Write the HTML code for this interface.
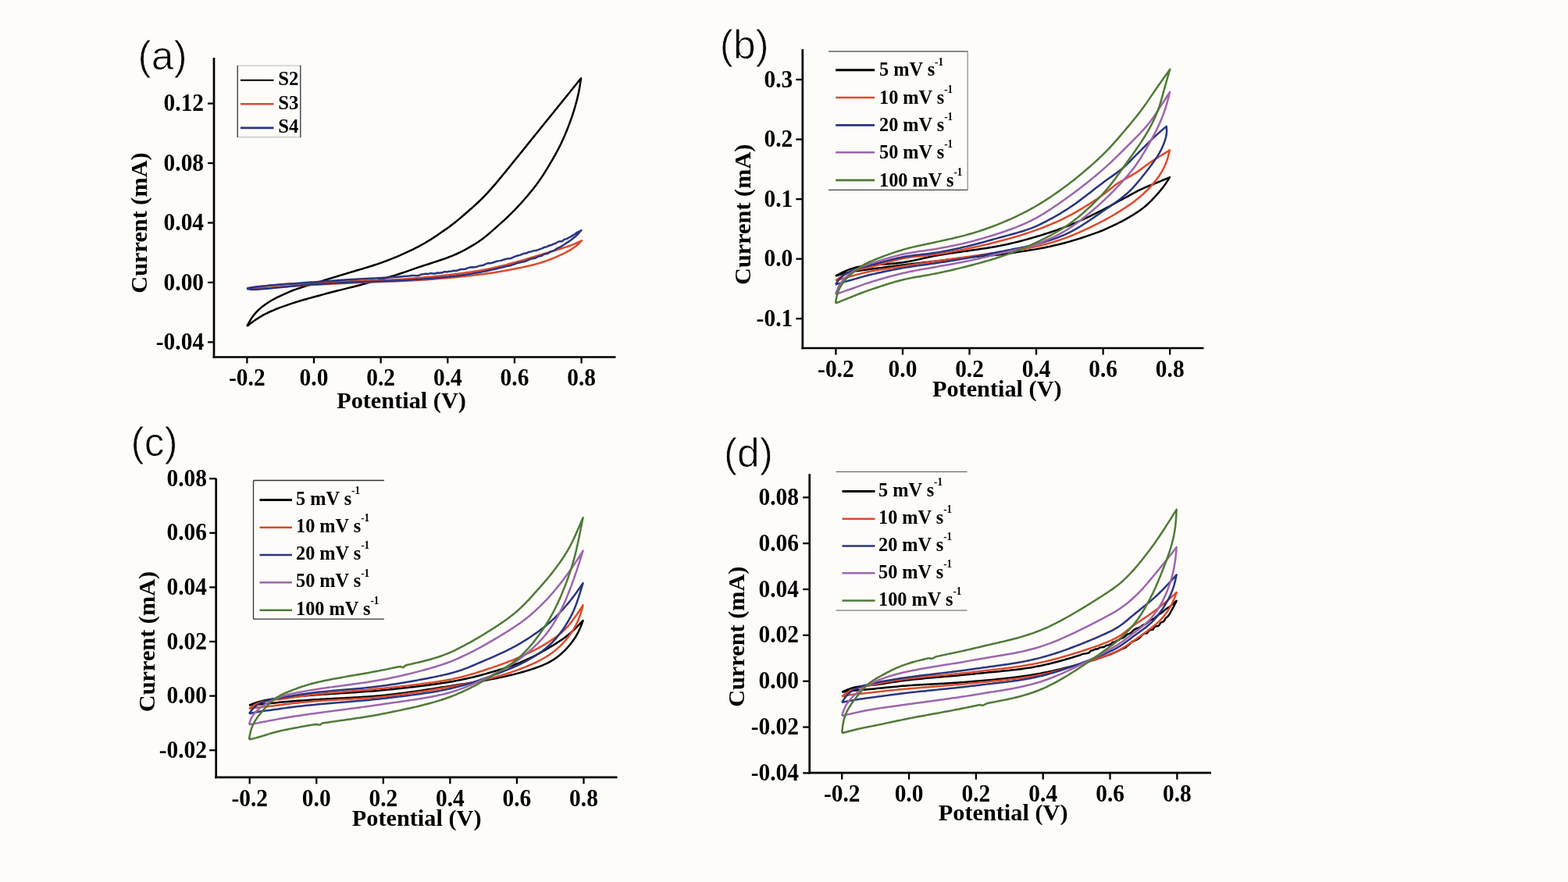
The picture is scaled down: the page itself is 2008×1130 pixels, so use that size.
<!DOCTYPE html>
<html><head><meta charset="utf-8"><title>Cyclic voltammetry curves</title>
<style>html,body{margin:0;padding:0;background:#fdfcf9;}svg{display:block;}</style>
</head><body>
<svg width="2008" height="1130" viewBox="0 0 2008 1130">
<rect width="2008" height="1130" fill="#fdfcf9"/>
<g fill="none" stroke="#000" stroke-linecap="butt">
<line x1="274" y1="74" x2="274" y2="458.85" stroke-width="2.7"/>
<line x1="272.65" y1="457.5" x2="788.5" y2="457.5" stroke-width="2.7"/>
<line x1="316.35" y1="457.5" x2="316.35" y2="465.5" stroke-width="2.3"/>
<line x1="402" y1="457.5" x2="402" y2="465.5" stroke-width="2.3"/>
<line x1="487.65" y1="457.5" x2="487.65" y2="465.5" stroke-width="2.3"/>
<line x1="573.3" y1="457.5" x2="573.3" y2="465.5" stroke-width="2.3"/>
<line x1="658.95" y1="457.5" x2="658.95" y2="465.5" stroke-width="2.3"/>
<line x1="744.6" y1="457.5" x2="744.6" y2="465.5" stroke-width="2.3"/>
<line x1="266" y1="132.58" x2="274" y2="132.58" stroke-width="2.3"/>
<line x1="266" y1="209.02" x2="274" y2="209.02" stroke-width="2.3"/>
<line x1="266" y1="285.46" x2="274" y2="285.46" stroke-width="2.3"/>
<line x1="266" y1="361.9" x2="274" y2="361.9" stroke-width="2.3"/>
<line x1="266" y1="438.34" x2="274" y2="438.34" stroke-width="2.3"/>
</g>
<text transform="translate(316.35 494.1) scale(0.92 1)" font-family="'Liberation Serif','Times New Roman',serif" font-weight="bold" font-size="32" text-anchor="middle">-0.2</text>
<text transform="translate(402 494.1) scale(0.92 1)" font-family="'Liberation Serif','Times New Roman',serif" font-weight="bold" font-size="32" text-anchor="middle">0.0</text>
<text transform="translate(487.65 494.1) scale(0.92 1)" font-family="'Liberation Serif','Times New Roman',serif" font-weight="bold" font-size="32" text-anchor="middle">0.2</text>
<text transform="translate(573.3 494.1) scale(0.92 1)" font-family="'Liberation Serif','Times New Roman',serif" font-weight="bold" font-size="32" text-anchor="middle">0.4</text>
<text transform="translate(658.95 494.1) scale(0.92 1)" font-family="'Liberation Serif','Times New Roman',serif" font-weight="bold" font-size="32" text-anchor="middle">0.6</text>
<text transform="translate(744.6 494.1) scale(0.92 1)" font-family="'Liberation Serif','Times New Roman',serif" font-weight="bold" font-size="32" text-anchor="middle">0.8</text>
<text transform="translate(261.1 142.18) scale(0.92 1)" font-family="'Liberation Serif','Times New Roman',serif" font-weight="bold" font-size="32" text-anchor="end">0.12</text>
<text transform="translate(261.1 218.62) scale(0.92 1)" font-family="'Liberation Serif','Times New Roman',serif" font-weight="bold" font-size="32" text-anchor="end">0.08</text>
<text transform="translate(261.1 295.06) scale(0.92 1)" font-family="'Liberation Serif','Times New Roman',serif" font-weight="bold" font-size="32" text-anchor="end">0.04</text>
<text transform="translate(261.1 371.5) scale(0.92 1)" font-family="'Liberation Serif','Times New Roman',serif" font-weight="bold" font-size="32" text-anchor="end">0.00</text>
<text transform="translate(261.1 447.94) scale(0.92 1)" font-family="'Liberation Serif','Times New Roman',serif" font-weight="bold" font-size="32" text-anchor="end">-0.04</text>
<text transform="translate(514 522.8)" font-family="'Liberation Serif','Times New Roman',serif" font-weight="bold" font-size="30.3" text-anchor="middle">Potential (V)</text>
<text transform="translate(188.3 285.5) rotate(-90)" font-family="'Liberation Serif','Times New Roman',serif" font-weight="bold" font-size="30.3" text-anchor="middle" lengthAdjust="spacingAndGlyphs">Current (mA)</text>
<text transform="translate(176.6 88.7)" font-family="'Liberation Sans',Arial,sans-serif" font-weight="normal" font-size="51.5" text-anchor="start" stroke="#fdfcf9" stroke-width="0.9">(a)</text>
<g stroke-width="1.3"><line x1="304.2" y1="84.2" x2="384.8" y2="84.2" stroke="#c4c4c4"/><line x1="304.2" y1="175.6" x2="384.8" y2="175.6" stroke="#c4c4c4"/><line x1="304.2" y1="84" x2="304.2" y2="176" stroke="#333"/><line x1="384.8" y1="84" x2="384.8" y2="176" stroke="#333"/></g>
<line x1="308" y1="102.8" x2="350.5" y2="102.8" stroke="#000000" stroke-width="2"/>
<text transform="translate(356.2 109) scale(0.96 1)" font-family="'Liberation Serif','Times New Roman',serif" font-weight="bold" font-size="25.8" text-anchor="start">S2</text>
<line x1="308" y1="133.3" x2="350.5" y2="133.3" stroke="#dc4a2c" stroke-width="2.6"/>
<text transform="translate(356.2 139.5) scale(0.96 1)" font-family="'Liberation Serif','Times New Roman',serif" font-weight="bold" font-size="25.8" text-anchor="start">S3</text>
<line x1="308" y1="163.9" x2="350.5" y2="163.9" stroke="#2a3580" stroke-width="2.6"/>
<text transform="translate(356.2 170.1) scale(0.96 1)" font-family="'Liberation Serif','Times New Roman',serif" font-weight="bold" font-size="25.8" text-anchor="start">S4</text>
<path d="M316.2 418 L317.62 415.36 L319.08 412.74 L320.59 410.16 L322.18 407.63 L323.88 405.19 L325.69 402.83 L327.63 400.58 L329.67 398.42 L331.83 396.36 L334.07 394.39 L336.4 392.51 L338.79 390.71 L341.24 388.99 L343.74 387.34 L346.29 385.76 L348.89 384.26 L351.52 382.81 L354.18 381.43 L356.87 380.08 L359.58 378.78 L362.31 377.51 L365.05 376.27 L367.8 375.06 L370.58 373.9 L373.36 372.77 L376.17 371.7 L379 370.67 L381.84 369.68 L384.69 368.73 L387.55 367.81 L390.42 366.9 L393.29 366 L396.17 365.11 L399.04 364.22 L401.92 363.32 L404.79 362.42 L407.66 361.52 L410.53 360.61 L413.4 359.71 L416.27 358.8 L419.15 357.91 L422.02 357.01 L424.9 356.13 L427.78 355.25 L430.66 354.38 L433.54 353.51 L436.42 352.64 L439.3 351.77 L442.19 350.91 L445.07 350.04 L447.95 349.17 L450.83 348.31 L453.72 347.44 L456.6 346.57 L459.48 345.71 L462.37 344.85 L465.25 343.98 L468.13 343.11 L471.01 342.24 L473.89 341.35 L476.76 340.45 L479.63 339.53 L482.48 338.59 L485.33 337.63 L488.18 336.64 L491.01 335.63 L493.83 334.59 L496.65 333.53 L499.46 332.44 L502.26 331.34 L505.04 330.21 L507.82 329.05 L510.59 327.88 L513.36 326.68 L516.11 325.47 L518.85 324.23 L521.59 322.97 L524.31 321.7 L527.02 320.39 L529.73 319.07 L532.41 317.72 L535.09 316.34 L537.74 314.92 L540.38 313.48 L542.99 311.99 L545.59 310.47 L548.17 308.92 L550.72 307.34 L553.26 305.72 L555.78 304.08 L558.29 302.42 L560.79 300.74 L563.27 299.04 L565.75 297.33 L568.22 295.62 L570.69 293.89 L573.14 292.15 L575.58 290.39 L577.99 288.59 L580.38 286.77 L582.74 284.91 L585.08 283.02 L587.4 281.1 L589.7 279.16 L591.99 277.21 L594.27 275.24 L596.54 273.27 L598.81 271.29 L601.07 269.31 L603.33 267.32 L605.58 265.32 L607.82 263.3 L610.04 261.27 L612.24 259.23 L614.42 257.15 L616.58 255.06 L618.7 252.93 L620.8 250.78 L622.88 248.6 L624.93 246.4 L626.96 244.17 L628.96 241.93 L630.95 239.67 L632.92 237.4 L634.87 235.11 L636.81 232.81 L638.74 230.49 L640.66 228.17 L642.57 225.85 L644.48 223.52 L646.38 221.19 L648.28 218.85 L650.18 216.52 L652.07 214.18 L653.97 211.84 L655.87 209.5 L657.76 207.16 L659.65 204.82 L661.55 202.48 L663.44 200.14 L665.33 197.8 L667.22 195.46 L669.11 193.11 L671 190.77 L672.89 188.43 L674.78 186.08 L676.66 183.74 L678.55 181.4 L680.44 179.05 L682.33 176.71 L684.22 174.36 L686.11 172.02 L688 169.68 L689.89 167.33 L691.78 164.99 L693.67 162.65 L695.56 160.31 L697.45 157.96 L699.34 155.62 L701.23 153.28 L703.13 150.94 L705.02 148.6 L706.91 146.26 L708.81 143.92 L710.7 141.58 L712.6 139.24 L714.49 136.9 L716.38 134.56 L718.28 132.22 L720.17 129.88 L722.06 127.54 L723.95 125.2 L725.84 122.86 L727.73 120.51 L729.62 118.17 L731.51 115.83 L733.4 113.48 L735.29 111.14 L737.18 108.79 L739.06 106.45 L740.95 104.11 L742.84 101.76 L744.1 100.2 L743.66 103.18 L743.2 106.15 L742.73 109.12 L742.23 112.09 L741.69 115.05 L741.12 118 L740.5 120.94 L739.83 123.87 L739.13 126.79 L738.38 129.7 L737.6 132.61 L736.79 135.51 L735.95 138.39 L735.07 141.27 L734.17 144.14 L733.24 147 L732.29 149.86 L731.3 152.7 L730.29 155.53 L729.25 158.36 L728.19 161.17 L727.11 163.98 L726.01 166.78 L724.89 169.57 L723.74 172.35 L722.55 175.11 L721.34 177.86 L720.09 180.6 L718.8 183.32 L717.48 186.02 L716.12 188.7 L714.74 191.38 L713.33 194.03 L711.9 196.68 L710.44 199.31 L708.97 201.93 L707.47 204.54 L705.95 207.14 L704.42 209.73 L702.87 212.31 L701.31 214.88 L699.74 217.45 L698.16 220.01 L696.56 222.56 L694.94 225.09 L693.29 227.6 L691.6 230.09 L689.88 232.55 L688.12 234.99 L686.32 237.4 L684.48 239.78 L682.63 242.15 L680.74 244.49 L678.84 246.82 L676.92 249.14 L674.98 251.44 L673.02 253.72 L671.05 255.99 L669.05 258.24 L667.04 260.48 L665.01 262.7 L662.96 264.9 L660.89 267.09 L658.81 269.26 L656.71 271.41 L654.59 273.55 L652.45 275.66 L650.29 277.75 L648.1 279.82 L645.9 281.87 L643.68 283.91 L641.45 285.93 L639.21 287.93 L636.96 289.93 L634.71 291.93 L632.45 293.92 L630.19 295.9 L627.92 297.87 L625.63 299.83 L623.32 301.75 L620.99 303.64 L618.62 305.49 L616.21 307.28 L613.76 309.01 L611.27 310.69 L608.74 312.31 L606.18 313.88 L603.6 315.42 L600.99 316.92 L598.37 318.4 L595.74 319.85 L593.09 321.26 L590.42 322.64 L587.72 323.97 L585.01 325.24 L582.26 326.45 L579.49 327.61 L576.69 328.71 L573.88 329.78 L571.06 330.81 L568.22 331.81 L565.38 332.8 L562.53 333.77 L559.68 334.73 L556.82 335.68 L553.96 336.61 L551.1 337.53 L548.23 338.45 L545.36 339.36 L542.5 340.29 L539.64 341.22 L536.79 342.17 L533.94 343.14 L531.09 344.12 L528.25 345.1 L525.41 346.1 L522.57 347.1 L519.73 348.09 L516.88 349.07 L514.03 350.04 L511.18 350.99 L508.32 351.92 L505.45 352.83 L502.57 353.71 L499.69 354.56 L496.8 355.39 L493.9 356.19 L490.99 356.98 L488.09 357.76 L485.18 358.53 L482.27 359.31 L479.37 360.1 L476.47 360.9 L473.57 361.71 L470.68 362.53 L467.78 363.34 L464.88 364.14 L461.98 364.92 L459.07 365.69 L456.15 366.45 L453.24 367.19 L450.32 367.92 L447.4 368.66 L444.48 369.39 L441.56 370.12 L438.65 370.86 L435.73 371.59 L432.81 372.32 L429.89 373.06 L426.97 373.79 L424.06 374.54 L421.14 375.3 L418.23 376.06 L415.33 376.84 L412.42 377.63 L409.52 378.43 L406.62 379.22 L403.72 380.02 L400.81 380.81 L397.91 381.61 L395.01 382.4 L392.11 383.21 L389.22 384.03 L386.32 384.87 L383.44 385.72 L380.56 386.6 L377.69 387.5 L374.83 388.42 L371.97 389.36 L369.12 390.33 L366.28 391.33 L363.45 392.34 L360.62 393.37 L357.81 394.43 L355 395.52 L352.21 396.64 L349.44 397.79 L346.68 398.99 L343.95 400.25 L341.25 401.56 L338.58 402.93 L335.94 404.36 L333.35 405.87 L330.8 407.44 L328.29 409.08 L325.81 410.78 L323.38 412.54 L320.97 414.34 L318.58 416.16 L316.2 418" fill="none" stroke="#000000" stroke-width="2.5" stroke-linejoin="round"/>
<path d="M316.5 369 L319.49 368.67 L322.48 368.34 L325.47 368.01 L328.46 367.68 L331.45 367.36 L334.45 367.03 L337.44 366.71 L340.43 366.4 L343.42 366.09 L346.42 365.79 L349.41 365.5 L352.41 365.22 L355.41 364.96 L358.4 364.71 L361.4 364.48 L364.4 364.26 L367.41 364.06 L370.41 363.88 L373.41 363.71 L376.42 363.55 L379.42 363.4 L382.43 363.26 L385.43 363.13 L388.44 363 L391.45 362.87 L394.45 362.73 L397.46 362.6 L400.46 362.46 L403.47 362.33 L406.48 362.18 L409.48 362.04 L412.49 361.9 L415.49 361.76 L418.5 361.62 L421.5 361.47 L424.51 361.33 L427.51 361.19 L430.52 361.06 L433.53 360.92 L436.53 360.79 L439.54 360.65 L442.54 360.52 L445.55 360.4 L448.56 360.27 L451.56 360.15 L454.57 360.04 L457.58 359.92 L460.58 359.81 L463.59 359.7 L466.6 359.6 L469.61 359.49 L472.61 359.39 L475.62 359.29 L478.63 359.18 L481.63 359.08 L484.64 358.98 L487.65 358.87 L490.66 358.76 L493.66 358.65 L496.67 358.53 L499.68 358.41 L502.68 358.28 L505.69 358.15 L508.69 358 L511.7 357.84 L514.7 357.66 L517.7 357.48 L520.7 357.27 L523.71 357.05 L526.7 356.82 L529.7 356.57 L532.7 356.31 L535.7 356.05 L538.7 355.78 L541.69 355.51 L544.69 355.24 L547.69 354.96 L550.68 354.68 L553.68 354.4 L556.67 354.1 L559.66 353.8 L562.66 353.5 L565.65 353.18 L568.64 352.86 L571.63 352.52 L574.62 352.18 L577.61 351.83 L580.6 351.47 L583.58 351.1 L586.57 350.72 L589.55 350.33 L592.53 349.93 L595.51 349.51 L598.49 349.08 L601.47 348.63 L604.44 348.18 L607.41 347.71 L610.38 347.22 L613.35 346.72 L616.31 346.21 L619.27 345.67 L622.23 345.11 L625.18 344.53 L628.13 343.93 L631.07 343.3 L634 342.65 L636.94 341.98 L639.86 341.28 L642.79 340.57 L645.7 339.84 L648.62 339.09 L651.53 338.32 L654.43 337.54 L657.34 336.75 L660.24 335.95 L663.13 335.13 L666.02 334.3 L668.91 333.46 L671.8 332.61 L674.68 331.76 L677.57 330.89 L680.45 330.02 L683.33 329.15 L686.21 328.28 L689.09 327.41 L691.97 326.54 L694.85 325.67 L697.73 324.8 L700.61 323.93 L703.49 323.06 L706.37 322.19 L709.25 321.32 L712.13 320.46 L715.01 319.59 L717.89 318.71 L720.76 317.82 L723.63 316.91 L726.48 315.97 L729.32 314.98 L732.13 313.94 L734.92 312.84 L737.69 311.68 L740.44 310.47 L743.18 309.23 L745 308.4 L742.88 310.47 L740.73 312.5 L738.5 314.45 L736.18 316.29 L733.76 318.01 L731.26 319.63 L728.69 321.16 L726.06 322.6 L723.4 323.99 L720.71 325.33 L717.99 326.62 L715.26 327.88 L712.5 329.1 L709.74 330.28 L706.95 331.43 L704.15 332.52 L701.33 333.58 L698.49 334.59 L695.64 335.55 L692.78 336.46 L689.89 337.33 L687 338.15 L684.09 338.93 L681.17 339.67 L678.24 340.38 L675.31 341.06 L672.37 341.71 L669.43 342.35 L666.48 342.97 L663.53 343.58 L660.58 344.18 L657.62 344.77 L654.66 345.34 L651.7 345.91 L648.74 346.46 L645.78 347 L642.81 347.53 L639.84 348.04 L636.87 348.53 L633.9 349.01 L630.92 349.47 L627.94 349.92 L624.96 350.35 L621.97 350.76 L618.99 351.16 L616 351.54 L613.01 351.91 L610.02 352.27 L607.02 352.62 L604.03 352.96 L601.04 353.3 L598.04 353.63 L595.05 353.96 L592.05 354.28 L589.05 354.59 L586.06 354.9 L583.06 355.2 L580.06 355.49 L577.06 355.78 L574.06 356.06 L571.06 356.33 L568.06 356.59 L565.05 356.84 L562.05 357.08 L559.05 357.32 L556.04 357.55 L553.04 357.77 L550.03 357.98 L547.03 358.19 L544.02 358.39 L541.01 358.58 L538.01 358.77 L535 358.95 L531.99 359.12 L528.98 359.28 L525.97 359.44 L522.96 359.59 L519.95 359.73 L516.94 359.87 L513.93 360.01 L510.92 360.14 L507.91 360.26 L504.9 360.39 L501.89 360.51 L498.88 360.62 L495.87 360.74 L492.86 360.85 L489.85 360.97 L486.84 361.08 L483.83 361.19 L480.82 361.3 L477.8 361.41 L474.79 361.53 L471.78 361.64 L468.77 361.75 L465.76 361.87 L462.75 361.99 L459.74 362.11 L456.73 362.23 L453.72 362.36 L450.71 362.48 L447.7 362.61 L444.69 362.75 L441.68 362.88 L438.67 363.02 L435.66 363.16 L432.65 363.31 L429.64 363.46 L426.63 363.6 L423.62 363.75 L420.61 363.91 L417.6 364.06 L414.59 364.22 L411.58 364.38 L408.57 364.54 L405.57 364.7 L402.56 364.87 L399.55 365.03 L396.54 365.2 L393.53 365.38 L390.52 365.55 L387.52 365.73 L384.51 365.91 L381.5 366.09 L378.49 366.28 L375.49 366.47 L372.48 366.67 L369.47 366.87 L366.47 367.07 L363.46 367.28 L360.46 367.5 L357.45 367.72 L354.45 367.95 L351.44 368.19 L348.44 368.43 L345.44 368.68 L342.43 368.92 L339.44 369.17 L336.45 369.4 L333.5 369.61 L330.61 369.78 L327.82 369.89 L325.18 369.91 L322.73 369.83 L320.49 369.63 L318.44 369.34 L316.5 369" fill="none" stroke="#dc4a2c" stroke-width="2.5" stroke-linejoin="round"/>
<path d="M316 370 L317.81 369.46 L319.75 368.94 L321.89 368.47 L324.26 368.03 L326.85 367.65 L329.61 367.3 L332.48 366.98 L335.41 366.69 L338.38 366.4 L341.37 366.13 L344.37 365.86 L347.36 365.6 L350.36 365.34 L353.36 365.08 L356.35 364.82 L359.35 364.57 L362.35 364.32 L365.34 364.08 L368.34 363.84 L371.34 363.61 L374.34 363.38 L377.34 363.15 L380.33 362.92 L383.33 362.7 L386.33 362.48 L389.33 362.27 L392.33 362.05 L395.33 361.83 L398.33 361.62 L401.33 361.4 L404.33 361.18 L407.33 360.97 L410.33 360.75 L413.33 360.53 L416.33 360.31 L419.33 360.1 L422.33 359.88 L425.33 359.67 L428.33 359.46 L431.33 359.25 L432.83 359.15 L434.33 359.04 L435.83 358.94 L437.33 358.84 L438.83 358.74 L440.33 358.64 L441.83 358.54 L443.33 358.44 L444.83 358.35 L446.33 358.25 L447.83 358.16 L449.33 358.07 L450.83 357.98 L452.33 357.89 L453.83 357.81 L455.33 357.72 L456.84 357.64 L458.34 357.55 L459.84 357.47 L461.34 357.39 L462.84 357.31 L464.34 357.24 L465.85 357.16 L467.35 357.08 L468.85 357.01 L470.35 356.93 L471.85 356.86 L473.35 356.79 L474.86 356.71 L476.36 356.64 L477.86 356.56 L479.36 356.49 L480.86 356.42 L482.36 356.34 L483.87 356.26 L485.37 356.19 L486.87 356.11 L488.37 356.03 L489.87 355.94 L491.37 355.86 L492.87 355.77 L494.38 355.69 L495.88 355.6 L497.38 355.51 L498.88 355.41 L500.38 355.32 L501.88 355.22 L503.38 355.12 L504.88 355.02 L506.38 354.91 L509.38 354.7 L512.38 354.48 L515.38 354.24 L518.37 354 L521.37 353.76 L524.37 353.59 L527.36 353.07 L530.36 352.97 L533.35 353.24 L536.34 353.02 L539.34 351.49 L542.33 351.32 L545.32 350.77 L548.31 351.07 L551.3 350.1 L554.29 350.46 L557.28 350.44 L560.27 349.52 L563.26 349.82 L566.25 349.34 L569.23 348.08 L572.21 348.56 L575.19 347.68 L578.17 347.5 L581.14 346.83 L584.1 346.99 L587.06 346.05 L590.01 345.03 L592.96 345.06 L595.9 344.81 L598.84 343.41 L601.77 342.61 L604.7 342.2 L607.63 342.4 L610.56 341.79 L613.49 340.63 L616.42 340.34 L619.36 339.58 L622.29 338.18 L625.22 337.06 L628.16 337.3 L631.09 336.47 L634.02 335.48 L636.94 334.56 L639.86 334.13 L642.78 333.5 L645.69 332.42 L648.59 331.67 L651.48 331.13 L654.38 330.95 L657.26 329.67 L660.14 328.33 L663.02 327.45 L665.9 326.86 L668.77 325.57 L671.65 324.68 L674.52 324.28 L677.39 322.7 L680.26 322.44 L683.13 321.34 L685.99 320.97 L688.85 320.12 L691.71 319.1 L694.57 318.15 L697.42 316.69 L700.26 316.18 L703.1 314.66 L705.93 314.02 L708.75 312.58 L711.56 311.71 L714.35 309.99 L717.13 309.14 L719.89 309.13 L722.63 306.71 L725.34 306.15 L728.02 304.74 L730.68 303.46 L733.31 301.61 L735.91 300.32 L738.5 298.02 L741.08 296.77 L743.64 295.52 L744.5 295 L743.84 295.75 L741.86 297.97 L739.83 300.23 L737.71 302.46 L735.5 304.07 L733.2 306.06 L730.81 307.73 L728.34 309.55 L725.83 310.89 L723.28 312.74 L720.7 314.49 L718.11 316.1 L715.49 317.36 L712.86 318.42 L710.21 320.61 L707.52 321.59 L704.81 322.56 L702.07 324.5 L699.3 325.32 L696.5 325.85 L693.69 327.83 L690.86 328.38 L688.02 329.14 L685.18 330.82 L682.32 331.15 L679.46 331.87 L676.59 333.1 L673.72 334.42 L670.84 335.18 L667.95 335.86 L665.06 336.47 L662.17 337.09 L659.27 338.33 L656.36 339.15 L653.45 340.32 L650.53 340.8 L647.62 341.36 L644.7 342.22 L641.77 342.81 L638.85 343.57 L635.92 344.27 L632.99 344.96 L630.05 345.63 L627.12 346.29 L624.17 346.93 L621.23 347.54 L618.27 348.14 L615.32 348.71 L612.36 349.26 L609.39 349.79 L606.43 350.3 L603.45 350.78 L600.48 351.24 L597.5 351.69 L594.52 352.12 L591.54 352.53 L588.55 352.92 L585.57 353.3 L582.58 353.67 L579.59 354.02 L576.59 354.35 L573.6 354.68 L570.6 354.99 L567.61 355.29 L564.61 355.57 L561.61 355.85 L558.61 356.12 L557.11 356.25 L555.61 356.38 L554.11 356.51 L552.61 356.64 L551.11 356.76 L549.61 356.89 L548.11 357.01 L546.61 357.13 L545.11 357.25 L543.6 357.36 L542.1 357.48 L540.6 357.59 L539.1 357.7 L537.6 357.81 L536.1 357.92 L534.59 358.02 L533.09 358.12 L531.59 358.23 L530.09 358.33 L528.58 358.43 L527.08 358.52 L525.58 358.62 L524.08 358.71 L522.57 358.8 L521.07 358.89 L519.57 358.98 L518.06 359.06 L516.56 359.15 L515.06 359.23 L513.55 359.31 L512.05 359.39 L510.55 359.47 L509.04 359.54 L507.54 359.62 L506.03 359.69 L504.53 359.76 L503.03 359.82 L501.52 359.89 L500.02 359.96 L498.51 360.02 L497.01 360.08 L495.5 360.14 L494 360.2 L492.49 360.26 L490.99 360.31 L489.48 360.37 L487.98 360.42 L486.47 360.47 L484.97 360.52 L483.46 360.57 L481.96 360.62 L480.45 360.66 L478.95 360.71 L477.44 360.76 L475.94 360.8 L474.43 360.85 L472.93 360.9 L471.42 360.94 L469.92 360.99 L468.41 361.04 L466.91 361.09 L465.4 361.14 L463.9 361.19 L462.39 361.24 L460.89 361.3 L459.38 361.35 L457.88 361.41 L456.38 361.47 L454.87 361.53 L453.37 361.59 L451.86 361.65 L450.36 361.71 L448.85 361.78 L447.35 361.85 L445.84 361.91 L444.34 361.98 L442.84 362.05 L441.33 362.13 L439.83 362.2 L438.32 362.27 L436.82 362.35 L435.32 362.43 L433.81 362.5 L432.31 362.58 L430.81 362.66 L429.3 362.74 L427.8 362.82 L426.29 362.9 L424.79 362.99 L423.29 363.07 L421.78 363.16 L420.28 363.24 L418.78 363.33 L417.27 363.42 L415.77 363.51 L414.27 363.6 L412.77 363.69 L411.26 363.79 L409.76 363.88 L408.26 363.98 L406.75 364.08 L405.25 364.17 L403.75 364.28 L402.25 364.38 L400.75 364.49 L399.24 364.59 L397.74 364.7 L396.24 364.81 L394.74 364.93 L393.24 365.04 L391.74 365.16 L390.24 365.28 L388.73 365.41 L387.23 365.53 L385.73 365.66 L384.23 365.78 L382.73 365.91 L381.23 366.05 L378.23 366.31 L375.23 366.59 L372.23 366.86 L369.24 367.14 L366.24 367.42 L363.24 367.71 L360.24 367.99 L357.24 368.28 L354.25 368.57 L351.25 368.87 L348.25 369.16 L345.26 369.46 L342.26 369.76 L339.27 370.06 L336.29 370.34 L333.34 370.59 L330.44 370.8 L327.63 370.94 L324.96 370.98 L322.47 370.9 L320.17 370.69 L318.03 370.38 L316 370" fill="none" stroke="#2a3580" stroke-width="2.5" stroke-linejoin="round"/>
<g fill="none" stroke="#000" stroke-linecap="butt">
<line x1="1027.8" y1="63" x2="1027.8" y2="447.35" stroke-width="2.7"/>
<line x1="1026.45" y1="446" x2="1541.5" y2="446" stroke-width="2.7"/>
<line x1="1070.4" y1="446" x2="1070.4" y2="454.5" stroke-width="2.3"/>
<line x1="1155.96" y1="446" x2="1155.96" y2="454.5" stroke-width="2.3"/>
<line x1="1241.52" y1="446" x2="1241.52" y2="454.5" stroke-width="2.3"/>
<line x1="1327.08" y1="446" x2="1327.08" y2="454.5" stroke-width="2.3"/>
<line x1="1412.64" y1="446" x2="1412.64" y2="454.5" stroke-width="2.3"/>
<line x1="1498.2" y1="446" x2="1498.2" y2="454.5" stroke-width="2.3"/>
<line x1="1019.3" y1="101.97" x2="1027.8" y2="101.97" stroke-width="2.3"/>
<line x1="1019.3" y1="178.55" x2="1027.8" y2="178.55" stroke-width="2.3"/>
<line x1="1019.3" y1="255.12" x2="1027.8" y2="255.12" stroke-width="2.3"/>
<line x1="1019.3" y1="331.7" x2="1027.8" y2="331.7" stroke-width="2.3"/>
<line x1="1019.3" y1="408.27" x2="1027.8" y2="408.27" stroke-width="2.3"/>
</g>
<text transform="translate(1070.4 483.2) scale(0.92 1)" font-family="'Liberation Serif','Times New Roman',serif" font-weight="bold" font-size="32" text-anchor="middle">-0.2</text>
<text transform="translate(1155.96 483.2) scale(0.92 1)" font-family="'Liberation Serif','Times New Roman',serif" font-weight="bold" font-size="32" text-anchor="middle">0.0</text>
<text transform="translate(1241.52 483.2) scale(0.92 1)" font-family="'Liberation Serif','Times New Roman',serif" font-weight="bold" font-size="32" text-anchor="middle">0.2</text>
<text transform="translate(1327.08 483.2) scale(0.92 1)" font-family="'Liberation Serif','Times New Roman',serif" font-weight="bold" font-size="32" text-anchor="middle">0.4</text>
<text transform="translate(1412.64 483.2) scale(0.92 1)" font-family="'Liberation Serif','Times New Roman',serif" font-weight="bold" font-size="32" text-anchor="middle">0.6</text>
<text transform="translate(1498.2 483.2) scale(0.92 1)" font-family="'Liberation Serif','Times New Roman',serif" font-weight="bold" font-size="32" text-anchor="middle">0.8</text>
<text transform="translate(1015.2 111.57) scale(0.92 1)" font-family="'Liberation Serif','Times New Roman',serif" font-weight="bold" font-size="32" text-anchor="end">0.3</text>
<text transform="translate(1015.2 188.15) scale(0.92 1)" font-family="'Liberation Serif','Times New Roman',serif" font-weight="bold" font-size="32" text-anchor="end">0.2</text>
<text transform="translate(1015.2 264.73) scale(0.92 1)" font-family="'Liberation Serif','Times New Roman',serif" font-weight="bold" font-size="32" text-anchor="end">0.1</text>
<text transform="translate(1015.2 341.3) scale(0.92 1)" font-family="'Liberation Serif','Times New Roman',serif" font-weight="bold" font-size="32" text-anchor="end">0.0</text>
<text transform="translate(1015.2 417.88) scale(0.92 1)" font-family="'Liberation Serif','Times New Roman',serif" font-weight="bold" font-size="32" text-anchor="end">-0.1</text>
<text transform="translate(1276.8 507.9)" font-family="'Liberation Serif','Times New Roman',serif" font-weight="bold" font-size="30.3" text-anchor="middle">Potential (V)</text>
<text transform="translate(960.7 274.8) rotate(-90)" font-family="'Liberation Serif','Times New Roman',serif" font-weight="bold" font-size="30.3" text-anchor="middle" lengthAdjust="spacingAndGlyphs">Current (mA)</text>
<text transform="translate(921.8 75.2)" font-family="'Liberation Sans',Arial,sans-serif" font-weight="normal" font-size="51.5" text-anchor="start" stroke="#fdfcf9" stroke-width="0.9">(b)</text>
<g stroke="#444" stroke-width="1.2"><line x1="1061" y1="65.8" x2="1239.2" y2="65.8"/><line x1="1061" y1="243.3" x2="1239.2" y2="243.3"/><line x1="1239.2" y1="65.8" x2="1239.2" y2="243.3" stroke="#888"/></g>
<line x1="1070.2" y1="89.7" x2="1120.1" y2="89.7" stroke="#000000" stroke-width="3"/>
<text transform="translate(1126 97.3) scale(0.935 1)" font-family="'Liberation Serif','Times New Roman',serif" font-weight="bold" font-size="26">5 mV s<tspan font-size="14" dy="-13.8">-1</tspan></text>
<line x1="1070.2" y1="125" x2="1120.1" y2="125" stroke="#dc4a2c" stroke-width="2.6"/>
<text transform="translate(1126 132.6) scale(0.935 1)" font-family="'Liberation Serif','Times New Roman',serif" font-weight="bold" font-size="26">10 mV s<tspan font-size="14" dy="-13.8">-1</tspan></text>
<line x1="1070.2" y1="160.4" x2="1120.1" y2="160.4" stroke="#2a3580" stroke-width="2.6"/>
<text transform="translate(1126 168) scale(0.935 1)" font-family="'Liberation Serif','Times New Roman',serif" font-weight="bold" font-size="26">20 mV s<tspan font-size="14" dy="-13.8">-1</tspan></text>
<line x1="1070.2" y1="195.2" x2="1120.1" y2="195.2" stroke="#9c66ad" stroke-width="2.6"/>
<text transform="translate(1126 202.8) scale(0.935 1)" font-family="'Liberation Serif','Times New Roman',serif" font-weight="bold" font-size="26">50 mV s<tspan font-size="14" dy="-13.8">-1</tspan></text>
<line x1="1070.2" y1="230.9" x2="1120.1" y2="230.9" stroke="#4f7a38" stroke-width="2.6"/>
<text transform="translate(1126 238.5) scale(0.935 1)" font-family="'Liberation Serif','Times New Roman',serif" font-weight="bold" font-size="26">100 mV s<tspan font-size="14" dy="-13.8">-1</tspan></text>
<path d="M1070 353.6 L1072.64 352.16 L1075.29 350.75 L1077.96 349.39 L1080.67 348.1 L1083.42 346.9 L1086.2 345.8 L1089.03 344.79 L1091.88 343.86 L1094.76 343.03 L1097.67 342.28 L1100.59 341.62 L1103.54 341.04 L1106.5 340.55 L1109.47 340.14 L1112.46 339.8 L1115.45 339.52 L1118.45 339.29 L1121.46 339.09 L1124.46 338.91 L1127.47 338.74 L1130.48 338.57 L1133.49 338.39 L1136.49 338.2 L1139.5 337.99 L1142.5 337.76 L1145.5 337.49 L1148.5 337.19 L1151.49 336.85 L1154.47 336.47 L1157.45 336.04 L1160.42 335.56 L1163.39 335.04 L1166.35 334.48 L1169.3 333.88 L1172.24 333.25 L1175.18 332.6 L1178.12 331.93 L1181.06 331.26 L1184 330.59 L1186.94 329.93 L1189.88 329.29 L1192.83 328.67 L1195.78 328.07 L1198.74 327.5 L1201.7 326.96 L1204.67 326.44 L1207.64 325.95 L1210.62 325.48 L1213.59 325.03 L1216.57 324.59 L1219.56 324.16 L1222.54 323.74 L1225.52 323.32 L1228.51 322.91 L1231.49 322.49 L1234.48 322.07 L1237.46 321.64 L1240.44 321.21 L1243.42 320.78 L1246.41 320.35 L1249.39 319.92 L1252.37 319.48 L1255.35 319.04 L1258.33 318.6 L1261.31 318.15 L1264.29 317.69 L1267.26 317.22 L1270.24 316.73 L1273.21 316.22 L1276.17 315.7 L1279.13 315.14 L1282.09 314.57 L1285.04 313.97 L1287.99 313.35 L1290.93 312.7 L1293.87 312.04 L1296.81 311.35 L1299.73 310.65 L1302.66 309.93 L1305.58 309.19 L1308.5 308.43 L1311.41 307.66 L1314.32 306.87 L1317.22 306.06 L1320.12 305.24 L1323.01 304.41 L1325.91 303.56 L1328.79 302.7 L1331.68 301.83 L1334.56 300.94 L1337.43 300.04 L1340.3 299.13 L1343.17 298.2 L1346.03 297.26 L1348.89 296.29 L1351.73 295.31 L1354.58 294.32 L1357.41 293.3 L1360.24 292.26 L1363.06 291.2 L1365.87 290.11 L1368.67 289 L1371.46 287.87 L1374.24 286.71 L1377.01 285.53 L1379.78 284.33 L1382.53 283.11 L1385.28 281.87 L1388.02 280.62 L1390.75 279.35 L1393.47 278.06 L1396.2 276.77 L1398.91 275.47 L1401.62 274.15 L1404.33 272.83 L1407.03 271.49 L1409.72 270.13 L1412.4 268.76 L1415.06 267.36 L1417.72 265.94 L1420.36 264.49 L1423 263.04 L1425.63 261.58 L1428.27 260.13 L1430.91 258.69 L1433.57 257.27 L1436.23 255.86 L1438.88 254.45 L1441.54 253.03 L1444.18 251.59 L1446.82 250.14 L1449.45 248.67 L1452.08 247.22 L1454.72 245.78 L1457.38 244.4 L1460.08 243.06 L1462.8 241.79 L1465.54 240.57 L1468.31 239.39 L1471.09 238.24 L1473.88 237.11 L1476.68 235.98 L1479.47 234.85 L1482.26 233.72 L1485.05 232.57 L1487.83 231.41 L1490.61 230.25 L1493.38 229.07 L1496.15 227.89 L1498 227.1 L1496.42 229.65 L1494.82 232.18 L1493.16 234.67 L1491.44 237.12 L1489.66 239.53 L1487.82 241.9 L1485.92 244.22 L1483.99 246.52 L1482.02 248.79 L1480.02 251.04 L1477.99 253.26 L1475.93 255.45 L1473.84 257.59 L1471.7 259.69 L1469.5 261.74 L1467.25 263.72 L1464.95 265.63 L1462.58 267.47 L1460.17 269.25 L1457.72 270.98 L1455.22 272.66 L1452.7 274.29 L1450.15 275.88 L1447.58 277.43 L1444.98 278.95 L1442.36 280.42 L1439.73 281.87 L1437.07 283.28 L1434.4 284.65 L1431.72 286 L1429.03 287.33 L1426.33 288.64 L1423.63 289.94 L1420.93 291.22 L1418.22 292.48 L1415.5 293.7 L1412.75 294.88 L1409.99 296.02 L1407.2 297.11 L1404.39 298.16 L1401.56 299.18 L1398.73 300.17 L1395.89 301.16 L1393.04 302.12 L1390.19 303.08 L1387.33 304.02 L1384.47 304.96 L1381.6 305.87 L1378.73 306.77 L1375.86 307.65 L1372.97 308.51 L1370.09 309.35 L1367.19 310.16 L1364.29 310.95 L1361.38 311.72 L1358.46 312.46 L1355.54 313.19 L1352.62 313.89 L1349.69 314.58 L1346.76 315.25 L1343.82 315.91 L1340.88 316.55 L1337.94 317.17 L1334.99 317.77 L1332.04 318.34 L1329.08 318.88 L1326.12 319.39 L1323.15 319.87 L1320.18 320.33 L1317.21 320.77 L1314.24 321.21 L1311.26 321.67 L1308.29 322.13 L1305.32 322.61 L1302.36 323.1 L1299.39 323.59 L1296.42 324.08 L1293.45 324.54 L1290.47 324.98 L1287.49 325.39 L1284.51 325.77 L1281.52 326.12 L1278.53 326.44 L1275.54 326.74 L1272.54 327.01 L1269.55 327.27 L1266.55 327.51 L1263.55 327.75 L1260.55 327.98 L1257.55 328.22 L1254.55 328.46 L1251.55 328.7 L1248.56 328.96 L1245.56 329.23 L1242.56 329.51 L1239.57 329.81 L1236.58 330.12 L1233.59 330.43 L1230.59 330.76 L1227.61 331.1 L1224.62 331.45 L1221.63 331.8 L1218.64 332.15 L1215.65 332.51 L1212.67 332.86 L1209.68 333.22 L1206.69 333.58 L1203.7 333.93 L1200.71 334.28 L1197.73 334.64 L1194.74 334.98 L1191.75 335.33 L1188.76 335.68 L1185.77 336.02 L1182.78 336.36 L1179.79 336.71 L1176.8 337.05 L1173.82 337.4 L1170.83 337.75 L1167.84 338.1 L1164.85 338.45 L1161.86 338.81 L1158.88 339.17 L1155.89 339.53 L1152.9 339.89 L1149.92 340.26 L1146.93 340.63 L1143.95 341.01 L1140.96 341.38 L1137.98 341.76 L1134.99 342.14 L1132.01 342.52 L1129.02 342.91 L1126.04 343.3 L1123.06 343.69 L1120.07 344.09 L1117.09 344.49 L1114.11 344.9 L1111.13 345.31 L1108.15 345.71 L1105.18 346.12 L1102.2 346.52 L1099.22 346.92 L1096.25 347.35 L1093.28 347.8 L1090.32 348.31 L1087.38 348.89 L1084.45 349.53 L1081.53 350.24 L1078.63 351.01 L1075.75 351.84 L1072.87 352.71 L1070 353.6" fill="none" stroke="#000000" stroke-width="2.5" stroke-linejoin="round"/>
<path d="M1070 359.4 L1072.46 357.69 L1074.95 356.01 L1077.46 354.39 L1080.02 352.86 L1082.63 351.44 L1085.3 350.14 L1088.04 348.98 L1090.83 347.97 L1093.67 347.08 L1096.55 346.31 L1099.46 345.63 L1102.38 345 L1105.32 344.39 L1108.26 343.77 L1111.19 343.12 L1114.11 342.43 L1117.02 341.69 L1119.92 340.91 L1122.82 340.1 L1125.71 339.26 L1128.59 338.41 L1131.47 337.55 L1134.36 336.7 L1137.24 335.86 L1140.13 335.04 L1143.03 334.24 L1145.94 333.47 L1148.86 332.75 L1151.78 332.07 L1154.72 331.44 L1157.67 330.87 L1160.63 330.35 L1163.59 329.89 L1166.57 329.47 L1169.55 329.09 L1172.54 328.75 L1175.53 328.44 L1178.52 328.14 L1181.51 327.84 L1184.5 327.55 L1187.49 327.24 L1190.48 326.92 L1193.47 326.57 L1196.45 326.2 L1199.43 325.79 L1202.41 325.36 L1205.38 324.91 L1208.35 324.43 L1211.31 323.93 L1214.28 323.41 L1217.24 322.88 L1220.2 322.33 L1223.15 321.77 L1226.1 321.2 L1229.05 320.62 L1232 320.03 L1234.95 319.43 L1237.9 318.83 L1240.84 318.21 L1243.78 317.59 L1246.72 316.95 L1249.66 316.31 L1252.6 315.66 L1255.53 315 L1258.46 314.33 L1261.39 313.65 L1264.32 312.95 L1267.24 312.25 L1270.17 311.53 L1273.08 310.8 L1276 310.06 L1278.91 309.3 L1281.82 308.54 L1284.72 307.76 L1287.62 306.97 L1290.52 306.17 L1293.42 305.36 L1296.31 304.54 L1299.2 303.7 L1302.09 302.86 L1304.97 302 L1307.85 301.12 L1310.72 300.22 L1313.58 299.31 L1316.44 298.37 L1319.29 297.41 L1322.13 296.43 L1324.97 295.43 L1327.8 294.41 L1330.62 293.37 L1333.43 292.3 L1336.24 291.22 L1339.03 290.12 L1341.82 289 L1344.61 287.86 L1347.38 286.7 L1350.14 285.51 L1352.9 284.3 L1355.64 283.07 L1358.37 281.81 L1361.08 280.52 L1363.78 279.2 L1366.47 277.85 L1369.14 276.47 L1371.8 275.06 L1374.44 273.62 L1377.06 272.16 L1379.67 270.66 L1382.27 269.15 L1384.85 267.61 L1387.42 266.05 L1389.98 264.48 L1392.54 262.88 L1395.08 261.28 L1397.61 259.66 L1400.13 258.02 L1402.65 256.37 L1405.15 254.7 L1407.63 253 L1410.09 251.27 L1412.52 249.51 L1414.92 247.71 L1417.28 245.87 L1419.63 243.99 L1421.95 242.1 L1424.28 240.22 L1426.63 238.37 L1429.02 236.59 L1431.47 234.89 L1433.97 233.28 L1436.54 231.75 L1439.14 230.28 L1441.76 228.83 L1444.39 227.4 L1447.01 225.93 L1449.61 224.43 L1452.18 222.88 L1454.71 221.27 L1457.2 219.6 L1459.66 217.88 L1462.09 216.12 L1464.5 214.33 L1466.91 212.53 L1469.32 210.75 L1471.76 209 L1474.22 207.29 L1476.72 205.61 L1479.24 203.98 L1481.78 202.38 L1484.34 200.8 L1486.9 199.23 L1489.47 197.66 L1492.03 196.09 L1494.59 194.51 L1497.15 192.93 L1498 192.4 L1497.76 193.37 L1497.05 196.29 L1496.29 199.19 L1495.47 202.07 L1494.58 204.92 L1493.58 207.74 L1492.49 210.52 L1491.28 213.25 L1489.98 215.94 L1488.57 218.58 L1487.07 221.16 L1485.48 223.7 L1483.81 226.18 L1482.06 228.62 L1480.25 231.01 L1478.38 233.35 L1476.45 235.65 L1474.47 237.9 L1472.44 240.11 L1470.36 242.28 L1468.25 244.41 L1466.09 246.5 L1463.9 248.55 L1461.66 250.56 L1459.39 252.52 L1457.09 254.44 L1454.74 256.31 L1452.36 258.14 L1449.94 259.93 L1447.5 261.67 L1445.03 263.38 L1442.54 265.06 L1440.03 266.72 L1437.51 268.35 L1434.97 269.97 L1432.43 271.57 L1429.87 273.15 L1427.3 274.71 L1424.72 276.25 L1422.12 277.76 L1419.51 279.24 L1416.88 280.7 L1414.23 282.12 L1411.57 283.51 L1408.89 284.88 L1406.21 286.24 L1403.52 287.58 L1400.82 288.91 L1398.12 290.23 L1395.41 291.53 L1392.7 292.83 L1389.97 294.11 L1387.25 295.37 L1384.51 296.62 L1381.76 297.84 L1379.01 299.04 L1376.24 300.21 L1373.46 301.36 L1370.67 302.47 L1367.87 303.56 L1365.05 304.61 L1362.23 305.63 L1359.39 306.63 L1356.54 307.6 L1353.69 308.53 L1350.82 309.44 L1347.95 310.33 L1345.07 311.18 L1342.18 312.01 L1339.28 312.81 L1336.37 313.57 L1333.46 314.31 L1330.54 315.02 L1327.61 315.69 L1324.67 316.32 L1321.73 316.92 L1318.77 317.48 L1315.82 318.01 L1312.85 318.5 L1309.88 318.96 L1306.91 319.41 L1303.93 319.83 L1300.95 320.24 L1297.97 320.64 L1294.99 321.04 L1292.01 321.44 L1289.03 321.84 L1286.05 322.25 L1283.07 322.67 L1280.1 323.1 L1277.12 323.52 L1274.14 323.96 L1271.17 324.39 L1268.19 324.82 L1265.22 325.26 L1262.24 325.69 L1259.27 326.12 L1256.29 326.55 L1253.31 326.98 L1250.34 327.41 L1247.36 327.83 L1244.38 328.25 L1241.4 328.67 L1238.42 329.08 L1235.45 329.5 L1232.47 329.9 L1229.49 330.31 L1226.51 330.72 L1223.53 331.12 L1220.55 331.52 L1217.57 331.93 L1214.59 332.34 L1211.61 332.75 L1208.63 333.16 L1205.65 333.58 L1202.67 334 L1199.7 334.43 L1196.72 334.86 L1193.75 335.3 L1190.77 335.74 L1187.8 336.18 L1184.82 336.64 L1181.85 337.09 L1178.88 337.55 L1175.91 338 L1172.94 338.46 L1169.96 338.93 L1166.99 339.39 L1164.02 339.85 L1161.05 340.31 L1158.08 340.77 L1155.11 341.23 L1152.13 341.69 L1149.16 342.15 L1146.19 342.6 L1143.22 343.06 L1140.24 343.52 L1137.27 343.97 L1134.3 344.43 L1131.33 344.89 L1128.36 345.36 L1125.39 345.84 L1122.42 346.32 L1119.46 346.83 L1116.51 347.37 L1113.56 347.94 L1110.62 348.56 L1107.69 349.21 L1104.77 349.89 L1101.86 350.61 L1098.95 351.36 L1096.04 352.13 L1093.14 352.92 L1090.25 353.73 L1087.36 354.55 L1084.48 355.39 L1081.59 356.22 L1078.7 357.04 L1075.8 357.84 L1072.9 358.63 L1070 359.4" fill="none" stroke="#dc4a2c" stroke-width="2.5" stroke-linejoin="round"/>
<path d="M1070 364.5 L1071.61 362.08 L1073.3 359.72 L1075.12 357.48 L1077.11 355.39 L1079.28 353.48 L1081.61 351.75 L1084.09 350.19 L1086.69 348.79 L1089.37 347.53 L1092.13 346.39 L1094.94 345.37 L1097.78 344.43 L1100.66 343.56 L1103.55 342.75 L1106.45 341.96 L1109.36 341.19 L1112.27 340.42 L1115.18 339.64 L1118.08 338.86 L1120.99 338.07 L1123.89 337.27 L1126.79 336.47 L1129.7 335.68 L1132.6 334.89 L1135.51 334.1 L1138.42 333.34 L1141.33 332.59 L1144.26 331.87 L1147.18 331.18 L1150.12 330.52 L1153.06 329.91 L1156.01 329.33 L1158.97 328.8 L1161.94 328.31 L1164.92 327.87 L1167.9 327.46 L1170.88 327.09 L1173.87 326.74 L1176.86 326.41 L1179.85 326.08 L1182.85 325.75 L1185.84 325.41 L1188.83 325.06 L1191.81 324.68 L1194.79 324.27 L1197.77 323.84 L1200.74 323.37 L1203.71 322.87 L1206.67 322.35 L1209.63 321.81 L1212.59 321.24 L1215.54 320.66 L1218.49 320.05 L1221.44 319.44 L1224.38 318.8 L1227.32 318.16 L1230.26 317.5 L1233.19 316.83 L1236.12 316.14 L1239.05 315.45 L1241.98 314.73 L1244.9 314.01 L1247.81 313.27 L1250.73 312.52 L1253.64 311.75 L1256.55 310.97 L1259.45 310.18 L1262.35 309.38 L1265.25 308.57 L1268.15 307.76 L1271.05 306.95 L1273.95 306.14 L1276.85 305.33 L1279.75 304.52 L1282.65 303.73 L1285.56 302.93 L1288.46 302.14 L1291.37 301.36 L1294.27 300.56 L1297.17 299.77 L1300.07 298.96 L1302.97 298.14 L1305.86 297.31 L1308.74 296.45 L1311.61 295.55 L1314.47 294.61 L1317.3 293.62 L1320.12 292.57 L1322.91 291.47 L1325.68 290.3 L1328.43 289.08 L1331.15 287.81 L1333.86 286.5 L1336.55 285.16 L1339.23 283.78 L1341.89 282.39 L1344.55 280.97 L1347.19 279.53 L1349.82 278.06 L1352.44 276.58 L1355.05 275.08 L1357.64 273.55 L1360.22 272 L1362.78 270.43 L1365.33 268.83 L1367.86 267.2 L1370.38 265.55 L1372.87 263.87 L1375.35 262.16 L1377.81 260.42 L1380.25 258.66 L1382.67 256.88 L1385.08 255.08 L1387.48 253.26 L1389.87 251.43 L1392.26 249.6 L1394.63 247.75 L1397.01 245.9 L1399.38 244.05 L1401.76 242.2 L1404.14 240.36 L1406.53 238.52 L1408.92 236.7 L1411.33 234.9 L1413.75 233.11 L1416.18 231.34 L1418.63 229.58 L1421.09 227.84 L1423.55 226.11 L1426 224.37 L1428.45 222.62 L1430.87 220.84 L1433.26 219.03 L1435.61 217.16 L1437.91 215.24 L1440.17 213.26 L1442.37 211.22 L1444.54 209.14 L1446.67 207.02 L1448.79 204.89 L1450.9 202.74 L1453 200.59 L1455.11 198.44 L1457.23 196.3 L1459.34 194.16 L1461.47 192.03 L1463.59 189.89 L1465.72 187.76 L1467.85 185.64 L1469.98 183.51 L1472.13 181.4 L1474.28 179.3 L1476.45 177.21 L1478.64 175.15 L1480.85 173.11 L1483.08 171.09 L1485.33 169.1 L1487.6 167.12 L1489.88 165.16 L1492.17 163.2 L1493.7 161.9 L1493.87 163.58 L1494.06 166.13 L1494.08 168.72 L1493.86 171.39 L1493.42 174.11 L1492.76 176.89 L1491.94 179.68 L1490.98 182.48 L1489.92 185.26 L1488.76 188.01 L1487.5 190.73 L1486.15 193.4 L1484.71 196.03 L1483.19 198.61 L1481.59 201.15 L1479.93 203.65 L1478.23 206.12 L1476.48 208.57 L1474.71 211 L1472.92 213.42 L1471.1 215.82 L1469.27 218.21 L1467.43 220.59 L1465.57 222.95 L1463.7 225.31 L1461.82 227.66 L1459.92 230 L1458.01 232.32 L1456.08 234.63 L1454.12 236.91 L1452.13 239.15 L1450.08 241.35 L1447.99 243.49 L1445.83 245.57 L1443.61 247.59 L1441.34 249.55 L1439.02 251.46 L1436.67 253.32 L1434.28 255.15 L1431.87 256.95 L1429.44 258.72 L1426.99 260.48 L1424.53 262.22 L1422.07 263.94 L1419.6 265.66 L1417.12 267.37 L1414.64 269.08 L1412.17 270.79 L1409.69 272.5 L1407.21 274.21 L1404.73 275.91 L1402.25 277.62 L1399.77 279.32 L1397.28 281.02 L1394.79 282.71 L1392.28 284.38 L1389.77 286.03 L1387.24 287.67 L1384.7 289.27 L1382.14 290.85 L1379.55 292.39 L1376.95 293.88 L1374.32 295.34 L1371.66 296.74 L1368.97 298.09 L1366.26 299.39 L1363.53 300.63 L1360.77 301.82 L1357.98 302.96 L1355.18 304.05 L1352.36 305.09 L1349.53 306.1 L1346.68 307.06 L1343.82 307.99 L1340.95 308.89 L1338.07 309.77 L1335.18 310.61 L1332.29 311.44 L1329.38 312.24 L1326.48 313.01 L1323.56 313.76 L1320.64 314.48 L1317.71 315.17 L1314.78 315.83 L1311.83 316.46 L1308.89 317.07 L1305.94 317.65 L1302.98 318.23 L1300.02 318.79 L1297.07 319.35 L1294.11 319.91 L1291.15 320.47 L1288.19 321.03 L1285.24 321.61 L1282.29 322.19 L1279.33 322.78 L1276.38 323.37 L1273.43 323.97 L1270.48 324.58 L1267.53 325.18 L1264.58 325.78 L1261.63 326.37 L1258.68 326.97 L1255.73 327.55 L1252.77 328.13 L1249.82 328.69 L1246.86 329.25 L1243.9 329.8 L1240.94 330.34 L1237.97 330.86 L1235.01 331.38 L1232.04 331.88 L1229.07 332.38 L1226.1 332.87 L1223.13 333.35 L1220.16 333.83 L1217.19 334.3 L1214.21 334.76 L1211.24 335.22 L1208.26 335.68 L1205.28 336.13 L1202.31 336.58 L1199.33 337.02 L1196.35 337.45 L1193.37 337.88 L1190.39 338.31 L1187.41 338.72 L1184.43 339.14 L1181.45 339.55 L1178.47 339.96 L1175.48 340.38 L1172.5 340.8 L1169.53 341.23 L1166.55 341.68 L1163.57 342.14 L1160.6 342.62 L1157.63 343.12 L1154.67 343.63 L1151.71 344.16 L1148.75 344.72 L1145.79 345.28 L1142.84 345.86 L1139.89 346.46 L1136.94 347.06 L1133.99 347.67 L1131.05 348.29 L1128.1 348.92 L1125.16 349.56 L1122.22 350.21 L1119.29 350.88 L1116.36 351.56 L1113.44 352.27 L1110.52 353.01 L1107.62 353.79 L1104.72 354.59 L1101.83 355.42 L1098.94 356.25 L1096.05 357.09 L1093.16 357.92 L1090.26 358.74 L1087.36 359.55 L1084.47 360.35 L1081.57 361.16 L1078.67 361.98 L1075.78 362.81 L1072.89 363.65 L1070 364.5" fill="none" stroke="#2a3580" stroke-width="2.5" stroke-linejoin="round"/>
<path d="M1070 377 L1071 374.2 L1072.06 371.44 L1073.24 368.73 L1074.57 366.12 L1076.09 363.61 L1077.78 361.23 L1079.65 358.96 L1081.67 356.8 L1083.8 354.75 L1086.03 352.78 L1088.34 350.89 L1090.72 349.1 L1093.17 347.4 L1095.69 345.81 L1098.27 344.34 L1100.92 342.98 L1103.64 341.73 L1106.4 340.59 L1109.2 339.53 L1112.03 338.53 L1114.88 337.58 L1117.74 336.65 L1120.61 335.75 L1123.49 334.86 L1126.36 333.97 L1129.24 333.09 L1132.13 332.22 L1135.01 331.36 L1137.9 330.51 L1140.79 329.68 L1143.69 328.87 L1146.6 328.09 L1149.51 327.35 L1152.44 326.63 L1155.37 325.96 L1158.31 325.32 L1161.26 324.73 L1164.22 324.17 L1167.18 323.65 L1170.15 323.17 L1173.12 322.71 L1176.1 322.27 L1179.08 321.84 L1182.06 321.41 L1185.04 320.98 L1188.02 320.55 L1191 320.1 L1193.97 319.64 L1196.94 319.15 L1199.91 318.65 L1202.88 318.13 L1205.84 317.6 L1208.8 317.05 L1211.76 316.49 L1214.71 315.92 L1217.67 315.34 L1220.62 314.74 L1223.57 314.13 L1226.51 313.5 L1229.45 312.86 L1232.39 312.2 L1235.32 311.52 L1238.25 310.82 L1241.17 310.1 L1244.09 309.35 L1247 308.59 L1249.91 307.8 L1252.81 306.99 L1255.7 306.17 L1258.59 305.33 L1261.48 304.48 L1264.36 303.61 L1267.25 302.74 L1270.12 301.85 L1273 300.95 L1275.87 300.05 L1278.74 299.13 L1281.6 298.21 L1284.46 297.26 L1287.31 296.29 L1290.15 295.29 L1292.97 294.27 L1295.79 293.21 L1298.6 292.14 L1301.4 291.04 L1304.2 289.92 L1306.99 288.78 L1309.76 287.62 L1312.52 286.43 L1315.27 285.2 L1317.99 283.92 L1320.68 282.59 L1323.36 281.22 L1326 279.79 L1328.63 278.32 L1331.23 276.81 L1333.81 275.27 L1336.38 273.69 L1338.93 272.1 L1341.47 270.48 L1344 268.85 L1346.52 267.2 L1349.03 265.54 L1351.53 263.86 L1354.02 262.17 L1356.5 260.47 L1358.98 258.76 L1361.45 257.04 L1363.91 255.3 L1366.36 253.55 L1368.8 251.79 L1371.23 250.01 L1373.65 248.23 L1376.07 246.43 L1378.47 244.62 L1380.87 242.8 L1383.26 240.97 L1385.64 239.12 L1388.01 237.27 L1390.38 235.41 L1392.74 233.53 L1395.09 231.65 L1397.43 229.76 L1399.76 227.85 L1402.08 225.94 L1404.4 224.01 L1406.7 222.08 L1409 220.13 L1411.28 218.16 L1413.54 216.18 L1415.79 214.18 L1418.03 212.16 L1420.24 210.13 L1422.45 208.07 L1424.63 206.01 L1426.8 203.92 L1428.96 201.83 L1431.12 199.72 L1433.26 197.6 L1435.4 195.48 L1437.53 193.36 L1439.67 191.24 L1441.8 189.12 L1443.94 186.99 L1446.07 184.87 L1448.21 182.75 L1450.34 180.62 L1452.46 178.49 L1454.58 176.34 L1456.68 174.19 L1458.77 172.02 L1460.84 169.84 L1462.9 167.64 L1464.93 165.42 L1466.92 163.17 L1468.88 160.89 L1470.78 158.57 L1472.64 156.21 L1474.45 153.81 L1476.21 151.37 L1477.93 148.91 L1479.62 146.42 L1481.28 143.91 L1482.94 141.39 L1484.58 138.87 L1486.23 136.35 L1487.87 133.83 L1489.51 131.3 L1491.15 128.78 L1492.78 126.25 L1494.41 123.71 L1496.03 121.18 L1497.66 118.65 L1498.2 117.8 L1497.71 119.74 L1496.96 122.66 L1496.21 125.57 L1495.44 128.48 L1494.64 131.38 L1493.81 134.27 L1492.94 137.15 L1492.03 140.01 L1491.07 142.86 L1490.06 145.69 L1489 148.51 L1487.9 151.3 L1486.75 154.08 L1485.56 156.84 L1484.33 159.59 L1483.06 162.31 L1481.75 165.02 L1480.41 167.71 L1479.04 170.39 L1477.64 173.05 L1476.21 175.7 L1474.77 178.34 L1473.31 180.97 L1471.84 183.6 L1470.36 186.22 L1468.87 188.83 L1467.36 191.44 L1465.84 194.03 L1464.3 196.62 L1462.74 199.19 L1461.16 201.75 L1459.54 204.28 L1457.89 206.8 L1456.21 209.29 L1454.49 211.75 L1452.72 214.18 L1450.91 216.58 L1449.06 218.95 L1447.17 221.28 L1445.24 223.59 L1443.28 225.87 L1441.3 228.14 L1439.3 230.39 L1437.29 232.62 L1435.26 234.84 L1433.21 237.05 L1431.16 239.25 L1429.09 241.43 L1427 243.6 L1424.9 245.75 L1422.78 247.88 L1420.64 250 L1418.48 252.1 L1416.3 254.18 L1414.11 256.24 L1411.9 258.28 L1409.68 260.31 L1407.45 262.32 L1405.2 264.33 L1402.94 266.32 L1400.68 268.3 L1398.4 270.26 L1396.11 272.21 L1393.8 274.15 L1391.49 276.07 L1389.16 277.97 L1386.81 279.85 L1384.44 281.7 L1382.05 283.53 L1379.64 285.33 L1377.21 287.1 L1374.75 288.83 L1372.27 290.52 L1369.76 292.18 L1367.22 293.78 L1364.65 295.35 L1362.06 296.87 L1359.44 298.35 L1356.8 299.78 L1354.13 301.17 L1351.44 302.52 L1348.74 303.83 L1346.01 305.1 L1343.27 306.33 L1340.51 307.52 L1337.73 308.68 L1334.95 309.81 L1332.14 310.9 L1329.32 311.95 L1326.49 312.96 L1323.65 313.92 L1320.78 314.84 L1317.91 315.72 L1315.02 316.55 L1312.12 317.34 L1309.2 318.09 L1306.28 318.81 L1303.36 319.51 L1300.43 320.19 L1297.49 320.85 L1294.56 321.52 L1291.62 322.19 L1288.69 322.86 L1285.76 323.55 L1282.83 324.24 L1279.9 324.94 L1276.98 325.65 L1274.06 326.36 L1271.13 327.08 L1268.21 327.79 L1265.28 328.5 L1262.36 329.2 L1259.43 329.9 L1256.5 330.59 L1253.57 331.27 L1250.63 331.94 L1247.7 332.6 L1244.76 333.24 L1241.81 333.87 L1238.87 334.48 L1235.92 335.08 L1232.97 335.66 L1230.01 336.24 L1227.06 336.8 L1224.1 337.35 L1221.14 337.9 L1218.18 338.44 L1215.22 338.97 L1212.25 339.51 L1209.29 340.04 L1206.33 340.57 L1203.37 341.1 L1200.41 341.64 L1197.44 342.17 L1194.48 342.69 L1191.52 343.22 L1188.55 343.74 L1185.59 344.26 L1182.62 344.78 L1179.66 345.3 L1176.7 345.84 L1173.74 346.38 L1170.78 346.93 L1167.83 347.51 L1164.88 348.1 L1161.93 348.72 L1158.99 349.36 L1156.06 350.02 L1153.13 350.71 L1150.21 351.43 L1147.29 352.17 L1144.38 352.93 L1141.47 353.71 L1138.57 354.5 L1135.67 355.31 L1132.78 356.13 L1129.88 356.96 L1126.99 357.8 L1124.11 358.64 L1121.22 359.5 L1118.35 360.38 L1115.47 361.28 L1112.61 362.19 L1109.76 363.14 L1106.91 364.12 L1104.08 365.12 L1101.25 366.14 L1098.42 367.17 L1095.6 368.19 L1092.77 369.21 L1089.93 370.21 L1087.09 371.2 L1084.24 372.17 L1081.39 373.13 L1078.54 374.09 L1075.69 375.06 L1072.84 376.03 L1070 377" fill="none" stroke="#9c66ad" stroke-width="2.5" stroke-linejoin="round"/>
<path d="M1070 388.5 L1070.45 385.55 L1070.96 382.62 L1071.56 379.71 L1072.31 376.85 L1073.21 374.04 L1074.29 371.3 L1075.55 368.63 L1076.98 366.05 L1078.57 363.56 L1080.31 361.17 L1082.19 358.87 L1084.18 356.68 L1086.29 354.58 L1088.48 352.55 L1090.73 350.6 L1093.04 348.69 L1095.38 346.82 L1097.75 345 L1100.16 343.24 L1102.62 341.54 L1105.12 339.94 L1107.69 338.44 L1110.32 337.05 L1113.01 335.75 L1115.74 334.53 L1118.5 333.36 L1121.28 332.24 L1124.08 331.14 L1126.88 330.06 L1129.69 329 L1132.51 327.94 L1135.33 326.9 L1138.15 325.88 L1140.99 324.87 L1143.83 323.88 L1146.67 322.92 L1149.53 321.98 L1152.4 321.08 L1155.27 320.21 L1158.16 319.38 L1161.06 318.58 L1163.96 317.82 L1166.88 317.09 L1169.8 316.39 L1172.73 315.72 L1175.67 315.07 L1178.6 314.43 L1181.54 313.8 L1184.49 313.18 L1187.43 312.56 L1190.37 311.94 L1193.31 311.31 L1196.25 310.67 L1199.19 310.03 L1202.12 309.39 L1205.06 308.74 L1208 308.09 L1210.93 307.44 L1213.87 306.78 L1216.8 306.12 L1219.73 305.46 L1222.66 304.78 L1225.58 304.08 L1228.51 303.37 L1231.42 302.64 L1234.33 301.89 L1237.24 301.11 L1240.13 300.31 L1243.02 299.48 L1245.9 298.63 L1248.78 297.76 L1251.65 296.86 L1254.51 295.94 L1257.37 295 L1260.21 294.04 L1263.06 293.05 L1265.89 292.05 L1268.71 291.02 L1271.53 289.97 L1274.34 288.89 L1277.13 287.8 L1279.93 286.68 L1282.71 285.54 L1285.48 284.38 L1288.25 283.2 L1291 282 L1293.75 280.78 L1296.49 279.54 L1299.22 278.29 L1301.94 277.01 L1304.66 275.71 L1307.36 274.39 L1310.05 273.05 L1312.72 271.69 L1315.39 270.3 L1318.04 268.88 L1320.68 267.44 L1323.3 265.98 L1325.91 264.48 L1328.51 262.97 L1331.09 261.43 L1333.65 259.86 L1336.21 258.28 L1338.75 256.67 L1341.27 255.04 L1343.79 253.39 L1346.29 251.72 L1348.78 250.04 L1351.25 248.33 L1353.72 246.61 L1356.17 244.87 L1358.61 243.12 L1361.04 241.34 L1363.46 239.56 L1365.86 237.75 L1368.26 235.94 L1370.64 234.1 L1373.01 232.26 L1375.37 230.4 L1377.72 228.52 L1380.06 226.63 L1382.39 224.73 L1384.71 222.82 L1387.02 220.89 L1389.32 218.96 L1391.61 217 L1393.88 215.04 L1396.15 213.07 L1398.4 211.08 L1400.65 209.07 L1402.88 207.06 L1405.09 205.03 L1407.29 202.98 L1409.48 200.91 L1411.64 198.83 L1413.79 196.72 L1415.91 194.6 L1418.01 192.45 L1420.09 190.28 L1422.15 188.09 L1424.18 185.87 L1426.2 183.64 L1428.2 181.4 L1430.18 179.14 L1432.15 176.87 L1434.11 174.59 L1436.06 172.3 L1438.01 170.01 L1439.96 167.72 L1441.9 165.42 L1443.84 163.13 L1445.78 160.83 L1447.71 158.53 L1449.64 156.22 L1451.55 153.9 L1453.45 151.57 L1455.34 149.23 L1457.2 146.87 L1459.04 144.49 L1460.86 142.1 L1462.65 139.69 L1464.42 137.26 L1466.16 134.81 L1467.89 132.35 L1469.6 129.87 L1471.29 127.39 L1472.98 124.9 L1474.67 122.42 L1476.36 119.93 L1478.05 117.45 L1479.76 114.97 L1481.47 112.5 L1483.19 110.03 L1484.92 107.57 L1486.65 105.12 L1488.39 102.66 L1490.14 100.21 L1491.89 97.77 L1493.63 95.32 L1495.38 92.88 L1497.13 90.43 L1498.3 88.8 L1497.44 91.68 L1496.59 94.57 L1495.74 97.45 L1494.9 100.34 L1494.06 103.23 L1493.24 106.12 L1492.42 109.01 L1491.61 111.91 L1490.81 114.81 L1490.02 117.71 L1489.23 120.61 L1488.45 123.51 L1487.65 126.41 L1486.84 129.3 L1485.99 132.18 L1485.09 135.05 L1484.14 137.89 L1483.13 140.71 L1482.05 143.51 L1480.92 146.29 L1479.72 149.04 L1478.48 151.78 L1477.2 154.5 L1475.88 157.19 L1474.51 159.87 L1473.11 162.53 L1471.66 165.16 L1470.18 167.77 L1468.66 170.37 L1467.11 172.94 L1465.53 175.5 L1463.92 178.04 L1462.29 180.56 L1460.64 183.07 L1458.97 185.58 L1457.29 188.07 L1455.59 190.55 L1453.88 193.02 L1452.15 195.48 L1450.41 197.94 L1448.66 200.38 L1446.91 202.82 L1445.15 205.26 L1443.39 207.7 L1441.64 210.15 L1439.89 212.59 L1438.15 215.04 L1436.41 217.49 L1434.66 219.95 L1432.92 222.39 L1431.16 224.83 L1429.39 227.27 L1427.61 229.68 L1425.8 232.09 L1423.97 234.47 L1422.12 236.84 L1420.24 239.18 L1418.32 241.5 L1416.38 243.79 L1414.4 246.05 L1412.39 248.28 L1410.35 250.49 L1408.28 252.67 L1406.19 254.83 L1404.08 256.97 L1401.94 259.08 L1399.79 261.18 L1397.61 263.25 L1395.42 265.31 L1393.21 267.35 L1390.98 269.36 L1388.73 271.36 L1386.46 273.34 L1384.18 275.29 L1381.87 277.22 L1379.55 279.12 L1377.2 281 L1374.83 282.84 L1372.43 284.65 L1370.01 286.43 L1367.56 288.17 L1365.08 289.87 L1362.58 291.53 L1360.04 293.14 L1357.49 294.72 L1354.91 296.25 L1352.3 297.75 L1349.68 299.22 L1347.03 300.65 L1344.38 302.05 L1341.71 303.43 L1339.02 304.79 L1336.33 306.13 L1333.63 307.45 L1330.92 308.76 L1328.21 310.05 L1325.49 311.33 L1322.76 312.59 L1320.02 313.83 L1317.27 315.06 L1314.52 316.26 L1311.75 317.44 L1308.97 318.59 L1306.19 319.73 L1303.4 320.84 L1300.6 321.94 L1297.79 323.02 L1294.98 324.07 L1292.15 325.11 L1289.33 326.13 L1286.49 327.14 L1283.65 328.12 L1280.8 329.08 L1277.95 330.02 L1275.08 330.94 L1272.21 331.84 L1269.34 332.72 L1266.46 333.58 L1263.57 334.42 L1260.68 335.24 L1257.78 336.05 L1254.88 336.85 L1251.98 337.63 L1249.07 338.41 L1246.17 339.18 L1243.26 339.94 L1240.35 340.7 L1237.43 341.44 L1234.52 342.18 L1231.6 342.91 L1228.68 343.63 L1225.76 344.34 L1222.83 345.04 L1219.91 345.73 L1216.98 346.41 L1214.05 347.07 L1211.11 347.73 L1208.17 348.38 L1205.23 349.01 L1202.29 349.63 L1199.35 350.23 L1196.4 350.81 L1193.44 351.38 L1190.49 351.92 L1187.53 352.45 L1184.56 352.97 L1181.6 353.48 L1178.64 353.98 L1175.67 354.5 L1172.71 355.02 L1169.75 355.56 L1166.8 356.13 L1163.86 356.73 L1160.92 357.36 L1157.99 358.03 L1155.07 358.73 L1152.16 359.48 L1149.25 360.26 L1146.36 361.07 L1143.47 361.91 L1140.59 362.77 L1137.72 363.65 L1134.85 364.56 L1131.99 365.47 L1129.12 366.39 L1126.27 367.33 L1123.41 368.27 L1120.56 369.22 L1117.71 370.17 L1114.86 371.14 L1112.02 372.12 L1109.19 373.13 L1106.36 374.16 L1103.55 375.21 L1100.74 376.29 L1097.94 377.39 L1095.15 378.5 L1092.36 379.62 L1089.57 380.74 L1086.78 381.86 L1083.99 382.98 L1081.19 384.1 L1078.4 385.21 L1075.6 386.31 L1072.8 387.41 L1070 388.5" fill="none" stroke="#4f7a38" stroke-width="2.5" stroke-linejoin="round"/>
<g fill="none" stroke="#000" stroke-linecap="butt">
<line x1="276.7" y1="612.7" x2="276.7" y2="997.15" stroke-width="2.7"/>
<line x1="275.35" y1="995.8" x2="790.5" y2="995.8" stroke-width="2.7"/>
<line x1="319.7" y1="995.8" x2="319.7" y2="1004.3" stroke-width="2.3"/>
<line x1="405.26" y1="995.8" x2="405.26" y2="1004.3" stroke-width="2.3"/>
<line x1="490.82" y1="995.8" x2="490.82" y2="1004.3" stroke-width="2.3"/>
<line x1="576.38" y1="995.8" x2="576.38" y2="1004.3" stroke-width="2.3"/>
<line x1="661.94" y1="995.8" x2="661.94" y2="1004.3" stroke-width="2.3"/>
<line x1="747.5" y1="995.8" x2="747.5" y2="1004.3" stroke-width="2.3"/>
<line x1="268.2" y1="613.2" x2="276.7" y2="613.2" stroke-width="2.3"/>
<line x1="268.2" y1="682.8" x2="276.7" y2="682.8" stroke-width="2.3"/>
<line x1="268.2" y1="752.4" x2="276.7" y2="752.4" stroke-width="2.3"/>
<line x1="268.2" y1="822" x2="276.7" y2="822" stroke-width="2.3"/>
<line x1="268.2" y1="891.6" x2="276.7" y2="891.6" stroke-width="2.3"/>
<line x1="268.2" y1="961.2" x2="276.7" y2="961.2" stroke-width="2.3"/>
</g>
<text transform="translate(319.7 1033) scale(0.92 1)" font-family="'Liberation Serif','Times New Roman',serif" font-weight="bold" font-size="32" text-anchor="middle">-0.2</text>
<text transform="translate(405.26 1033) scale(0.92 1)" font-family="'Liberation Serif','Times New Roman',serif" font-weight="bold" font-size="32" text-anchor="middle">0.0</text>
<text transform="translate(490.82 1033) scale(0.92 1)" font-family="'Liberation Serif','Times New Roman',serif" font-weight="bold" font-size="32" text-anchor="middle">0.2</text>
<text transform="translate(576.38 1033) scale(0.92 1)" font-family="'Liberation Serif','Times New Roman',serif" font-weight="bold" font-size="32" text-anchor="middle">0.4</text>
<text transform="translate(661.94 1033) scale(0.92 1)" font-family="'Liberation Serif','Times New Roman',serif" font-weight="bold" font-size="32" text-anchor="middle">0.6</text>
<text transform="translate(747.5 1033) scale(0.92 1)" font-family="'Liberation Serif','Times New Roman',serif" font-weight="bold" font-size="32" text-anchor="middle">0.8</text>
<text transform="translate(265 622.8) scale(0.92 1)" font-family="'Liberation Serif','Times New Roman',serif" font-weight="bold" font-size="32" text-anchor="end">0.08</text>
<text transform="translate(265 692.4) scale(0.92 1)" font-family="'Liberation Serif','Times New Roman',serif" font-weight="bold" font-size="32" text-anchor="end">0.06</text>
<text transform="translate(265 762) scale(0.92 1)" font-family="'Liberation Serif','Times New Roman',serif" font-weight="bold" font-size="32" text-anchor="end">0.04</text>
<text transform="translate(265 831.6) scale(0.92 1)" font-family="'Liberation Serif','Times New Roman',serif" font-weight="bold" font-size="32" text-anchor="end">0.02</text>
<text transform="translate(265 901.2) scale(0.92 1)" font-family="'Liberation Serif','Times New Roman',serif" font-weight="bold" font-size="32" text-anchor="end">0.00</text>
<text transform="translate(265 970.8) scale(0.92 1)" font-family="'Liberation Serif','Times New Roman',serif" font-weight="bold" font-size="32" text-anchor="end">-0.02</text>
<text transform="translate(533.6 1057.7)" font-family="'Liberation Serif','Times New Roman',serif" font-weight="bold" font-size="30.3" text-anchor="middle">Potential (V)</text>
<text transform="translate(198 822) rotate(-90)" font-family="'Liberation Serif','Times New Roman',serif" font-weight="bold" font-size="30.3" text-anchor="middle" lengthAdjust="spacingAndGlyphs">Current (mA)</text>
<text transform="translate(167.5 584.3)" font-family="'Liberation Sans',Arial,sans-serif" font-weight="normal" font-size="51.5" text-anchor="start" stroke="#fdfcf9" stroke-width="0.9">(c)</text>
<g stroke="#333" stroke-width="1.3"><line x1="324.5" y1="615.5" x2="492" y2="615.5"/><line x1="324.5" y1="793.2" x2="492" y2="793.2"/><line x1="324.5" y1="615.5" x2="324.5" y2="793.2"/></g>
<line x1="332.5" y1="640.5" x2="374" y2="640.5" stroke="#000000" stroke-width="3"/>
<text transform="translate(379 646.7) scale(0.935 1)" font-family="'Liberation Serif','Times New Roman',serif" font-weight="bold" font-size="26">5 mV s<tspan font-size="14" dy="-13.8">-1</tspan></text>
<line x1="332.5" y1="675.7" x2="374" y2="675.7" stroke="#dc4a2c" stroke-width="2.6"/>
<text transform="translate(379 681.9) scale(0.935 1)" font-family="'Liberation Serif','Times New Roman',serif" font-weight="bold" font-size="26">10 mV s<tspan font-size="14" dy="-13.8">-1</tspan></text>
<line x1="332.5" y1="711" x2="374" y2="711" stroke="#2a3580" stroke-width="2.6"/>
<text transform="translate(379 717.2) scale(0.935 1)" font-family="'Liberation Serif','Times New Roman',serif" font-weight="bold" font-size="26">20 mV s<tspan font-size="14" dy="-13.8">-1</tspan></text>
<line x1="332.5" y1="746.2" x2="374" y2="746.2" stroke="#9c66ad" stroke-width="2.6"/>
<text transform="translate(379 752.4) scale(0.935 1)" font-family="'Liberation Serif','Times New Roman',serif" font-weight="bold" font-size="26">50 mV s<tspan font-size="14" dy="-13.8">-1</tspan></text>
<line x1="332.5" y1="781.8" x2="374" y2="781.8" stroke="#4f7a38" stroke-width="2.6"/>
<text transform="translate(379 788) scale(0.935 1)" font-family="'Liberation Serif','Times New Roman',serif" font-weight="bold" font-size="26">100 mV s<tspan font-size="14" dy="-13.8">-1</tspan></text>
<path d="M319 903.6 L321.81 902.53 L324.62 901.48 L327.45 900.48 L330.3 899.56 L333.18 898.71 L336.08 897.96 L339 897.28 L341.95 896.69 L344.9 896.16 L347.87 895.7 L350.85 895.28 L353.84 894.91 L356.83 894.57 L359.82 894.24 L362.82 893.94 L365.81 893.64 L368.81 893.35 L371.81 893.07 L374.81 892.78 L377.8 892.51 L380.8 892.23 L383.8 891.97 L386.8 891.7 L389.8 891.44 L392.8 891.19 L395.8 890.95 L398.8 890.71 L401.81 890.47 L404.81 890.25 L407.81 890.03 L410.82 889.81 L413.82 889.61 L416.82 889.4 L419.83 889.21 L422.83 889.01 L425.84 888.82 L428.85 888.64 L431.85 888.45 L434.86 888.26 L437.86 888.08 L440.87 887.89 L443.87 887.7 L446.88 887.51 L449.88 887.32 L452.89 887.13 L455.89 886.93 L458.9 886.73 L461.9 886.52 L464.9 886.31 L467.91 886.09 L470.91 885.86 L473.91 885.63 L476.91 885.39 L479.92 885.15 L482.92 884.89 L485.92 884.63 L488.91 884.36 L491.91 884.08 L494.91 883.79 L497.91 883.5 L500.9 883.2 L503.9 882.89 L506.89 882.58 L509.89 882.26 L512.88 881.94 L515.88 881.61 L518.87 881.28 L521.86 880.94 L524.85 880.6 L527.84 880.26 L530.83 879.9 L533.82 879.55 L536.81 879.18 L539.8 878.81 L542.79 878.43 L545.78 878.05 L548.76 877.66 L551.75 877.26 L554.73 876.85 L557.71 876.44 L560.69 876.01 L563.67 875.57 L566.65 875.12 L569.62 874.66 L572.6 874.19 L575.57 873.69 L578.53 873.18 L581.5 872.66 L584.46 872.11 L587.42 871.54 L590.37 870.95 L593.32 870.34 L596.26 869.7 L599.2 869.05 L602.13 868.37 L605.06 867.67 L607.98 866.95 L610.9 866.2 L613.81 865.45 L616.72 864.67 L619.63 863.88 L622.53 863.08 L625.43 862.26 L628.32 861.44 L631.21 860.6 L634.1 859.75 L636.99 858.89 L639.87 858.01 L642.74 857.11 L645.61 856.2 L648.47 855.26 L651.32 854.3 L654.16 853.31 L657 852.29 L659.82 851.24 L662.63 850.16 L665.42 849.05 L668.21 847.91 L670.97 846.72 L673.72 845.5 L676.46 844.24 L679.17 842.95 L681.87 841.61 L684.55 840.24 L687.21 838.84 L689.86 837.41 L692.5 835.96 L695.12 834.48 L697.73 832.99 L700.34 831.48 L702.93 829.95 L705.52 828.41 L708.09 826.85 L710.66 825.28 L713.21 823.68 L715.73 822.05 L718.23 820.38 L720.7 818.66 L723.13 816.89 L725.52 815.07 L727.85 813.19 L730.15 811.25 L732.4 809.25 L734.6 807.21 L736.77 805.13 L738.91 803.01 L741.02 800.87 L743.12 798.72 L745.21 796.55 L746.6 795.1 L745.59 797.92 L744.54 800.73 L743.44 803.52 L742.26 806.27 L740.98 808.97 L739.6 811.62 L738.13 814.22 L736.56 816.77 L734.91 819.27 L733.17 821.71 L731.36 824.1 L729.48 826.44 L727.53 828.71 L725.52 830.94 L723.44 833.1 L721.31 835.21 L719.12 837.25 L716.86 839.21 L714.54 841.1 L712.14 842.89 L709.68 844.58 L707.15 846.17 L704.56 847.67 L701.92 849.06 L699.23 850.38 L696.49 851.61 L693.73 852.78 L690.93 853.88 L688.12 854.94 L685.29 855.95 L682.44 856.93 L679.59 857.86 L676.72 858.77 L673.84 859.64 L670.95 860.49 L668.06 861.31 L665.16 862.11 L662.25 862.88 L659.33 863.64 L656.42 864.37 L653.49 865.08 L650.56 865.77 L647.63 866.45 L644.69 867.1 L641.75 867.73 L638.8 868.34 L635.85 868.94 L632.9 869.52 L629.95 870.08 L626.99 870.63 L624.03 871.17 L621.06 871.7 L618.1 872.22 L615.13 872.73 L612.16 873.23 L609.2 873.72 L606.23 874.21 L603.25 874.7 L600.28 875.18 L597.31 875.65 L594.34 876.12 L591.37 876.59 L588.39 877.06 L585.42 877.53 L582.45 877.99 L579.47 878.46 L576.5 878.92 L573.52 879.39 L570.55 879.86 L567.58 880.32 L564.6 880.79 L561.63 881.25 L558.66 881.71 L555.68 882.18 L552.71 882.64 L549.73 883.09 L546.76 883.55 L543.78 884 L540.8 884.44 L537.83 884.88 L534.85 885.32 L531.87 885.75 L528.89 886.18 L525.91 886.59 L522.93 887.01 L519.95 887.41 L516.96 887.81 L513.98 888.2 L510.99 888.57 L508.01 888.94 L505.02 889.3 L502.03 889.65 L499.04 889.99 L496.05 890.32 L493.05 890.63 L490.06 890.93 L487.06 891.22 L484.06 891.49 L481.07 891.75 L478.07 891.99 L475.07 892.23 L472.06 892.45 L469.06 892.66 L466.06 892.87 L463.06 893.06 L460.05 893.25 L457.05 893.43 L454.04 893.6 L451.04 893.77 L448.03 893.94 L445.03 894.1 L442.02 894.25 L439.02 894.41 L436.01 894.56 L433 894.71 L430 894.86 L426.99 895.01 L423.99 895.16 L420.98 895.32 L417.97 895.48 L414.97 895.64 L411.96 895.81 L408.96 895.99 L405.96 896.17 L402.95 896.36 L399.95 896.56 L396.95 896.76 L393.94 896.97 L390.94 897.18 L387.94 897.4 L384.94 897.62 L381.93 897.84 L378.93 898.07 L375.93 898.3 L372.93 898.54 L369.93 898.79 L366.93 899.04 L363.94 899.3 L360.94 899.58 L357.94 899.86 L354.95 900.15 L351.95 900.44 L348.96 900.73 L345.96 901.02 L342.97 901.31 L339.97 901.59 L336.98 901.87 L333.98 902.15 L330.98 902.43 L327.99 902.72 L324.99 903.01 L322 903.3 L319 903.6" fill="none" stroke="#000000" stroke-width="2.5" stroke-linejoin="round"/>
<path d="M319 908 L321.34 906.23 L323.72 904.54 L326.18 903 L328.74 901.65 L331.41 900.51 L334.17 899.58 L337.01 898.83 L339.92 898.23 L342.86 897.74 L345.82 897.33 L348.8 896.96 L351.79 896.61 L354.77 896.26 L357.76 895.91 L360.75 895.54 L363.73 895.15 L366.71 894.73 L369.69 894.3 L372.66 893.86 L375.64 893.41 L378.61 892.96 L381.58 892.51 L384.56 892.07 L387.54 891.64 L390.52 891.23 L393.5 890.84 L396.48 890.46 L399.47 890.1 L402.46 889.75 L405.45 889.42 L408.44 889.11 L411.43 888.81 L414.43 888.52 L417.42 888.25 L420.42 887.98 L423.42 887.72 L426.42 887.46 L429.41 887.21 L432.41 886.96 L435.41 886.71 L438.41 886.47 L441.41 886.23 L444.41 885.98 L447.4 885.74 L450.4 885.49 L453.4 885.25 L456.4 885 L459.4 884.74 L462.4 884.49 L465.39 884.23 L468.39 883.97 L471.39 883.7 L474.38 883.42 L477.38 883.14 L480.37 882.85 L483.37 882.56 L486.36 882.26 L489.35 881.95 L492.35 881.64 L495.34 881.32 L498.33 881 L501.32 880.68 L504.31 880.36 L507.3 880.04 L510.29 879.71 L513.28 879.38 L516.27 879.05 L519.26 878.72 L522.25 878.38 L525.24 878.04 L528.23 877.69 L531.22 877.34 L534.21 876.98 L537.19 876.62 L540.18 876.24 L543.16 875.86 L546.14 875.47 L549.13 875.06 L552.11 874.65 L555.08 874.22 L558.06 873.77 L561.03 873.31 L564 872.83 L566.97 872.34 L569.93 871.82 L572.89 871.27 L575.84 870.7 L578.79 870.1 L581.73 869.48 L584.66 868.82 L587.59 868.14 L590.51 867.43 L593.43 866.68 L596.34 865.92 L599.24 865.12 L602.13 864.3 L605.02 863.46 L607.9 862.59 L610.77 861.71 L613.64 860.8 L616.51 859.89 L619.37 858.95 L622.22 858.01 L625.08 857.06 L627.93 856.1 L630.78 855.14 L633.63 854.17 L636.47 853.18 L639.31 852.19 L642.14 851.18 L644.97 850.15 L647.78 849.09 L650.59 848.02 L653.39 846.92 L656.18 845.79 L658.96 844.64 L661.73 843.47 L664.49 842.28 L667.24 841.07 L669.99 839.83 L672.72 838.58 L675.45 837.31 L678.16 836.01 L680.86 834.69 L683.55 833.34 L686.22 831.96 L688.87 830.54 L691.51 829.09 L694.12 827.61 L696.71 826.09 L699.29 824.53 L701.84 822.94 L704.37 821.32 L706.87 819.66 L709.35 817.96 L711.79 816.21 L714.19 814.41 L716.54 812.56 L718.84 810.63 L721.08 808.64 L723.25 806.58 L725.34 804.44 L727.36 802.24 L729.31 799.96 L731.2 797.63 L733.03 795.25 L734.81 792.84 L736.55 790.39 L738.26 787.91 L739.95 785.43 L741.62 782.93 L743.28 780.42 L744.94 777.91 L746.6 775.4 L745.81 778.3 L745 781.2 L744.16 784.08 L743.27 786.95 L742.31 789.79 L741.27 792.6 L740.13 795.36 L738.89 798.09 L737.56 800.77 L736.14 803.4 L734.63 805.99 L733.04 808.54 L731.38 811.03 L729.65 813.49 L727.86 815.89 L725.99 818.24 L724.07 820.54 L722.07 822.78 L720.02 824.97 L717.91 827.09 L715.73 829.16 L713.5 831.17 L711.22 833.11 L708.87 834.98 L706.48 836.79 L704.03 838.52 L701.53 840.18 L698.99 841.77 L696.4 843.29 L693.78 844.76 L691.13 846.16 L688.44 847.52 L685.74 848.83 L683.01 850.09 L680.27 851.32 L677.51 852.52 L674.73 853.69 L671.95 854.82 L669.15 855.94 L666.34 857.02 L663.53 858.08 L660.7 859.11 L657.87 860.12 L655.02 861.11 L652.17 862.07 L649.31 863.01 L646.45 863.92 L643.57 864.81 L640.69 865.68 L637.8 866.52 L634.9 867.34 L632 868.13 L629.09 868.9 L626.17 869.65 L623.25 870.37 L620.33 871.08 L617.4 871.76 L614.46 872.43 L611.52 873.08 L608.58 873.72 L605.64 874.34 L602.69 874.94 L599.74 875.54 L596.78 876.12 L593.83 876.69 L590.87 877.26 L587.91 877.81 L584.95 878.36 L581.99 878.9 L579.03 879.44 L576.07 879.96 L573.1 880.49 L570.14 881.01 L567.17 881.52 L564.21 882.03 L561.24 882.53 L558.27 883.03 L555.3 883.52 L552.33 884.01 L549.36 884.49 L546.38 884.96 L543.41 885.43 L540.44 885.89 L537.46 886.35 L534.48 886.8 L531.51 887.24 L528.53 887.68 L525.55 888.1 L522.57 888.53 L519.59 888.94 L516.6 889.35 L513.62 889.74 L510.63 890.13 L507.65 890.51 L504.66 890.88 L501.67 891.24 L498.68 891.59 L495.69 891.93 L492.7 892.26 L489.71 892.57 L486.71 892.87 L483.71 893.15 L480.72 893.42 L477.72 893.68 L474.72 893.93 L471.72 894.16 L468.72 894.38 L465.71 894.59 L462.71 894.8 L459.71 894.99 L456.7 895.18 L453.7 895.36 L450.69 895.54 L447.69 895.71 L444.68 895.88 L441.68 896.05 L438.67 896.21 L435.66 896.37 L432.66 896.54 L429.65 896.7 L426.65 896.87 L423.64 897.04 L420.64 897.21 L417.63 897.39 L414.63 897.58 L411.62 897.78 L408.62 897.99 L405.62 898.21 L402.62 898.44 L399.62 898.69 L396.62 898.94 L393.62 899.21 L390.62 899.49 L387.63 899.78 L384.63 900.08 L381.64 900.39 L378.64 900.71 L375.65 901.04 L372.66 901.38 L369.68 901.74 L366.69 902.11 L363.71 902.5 L360.73 902.89 L357.75 903.29 L354.77 903.69 L351.79 904.07 L348.8 904.42 L345.81 904.75 L342.82 905.06 L339.83 905.34 L336.84 905.63 L333.85 905.92 L330.86 906.25 L327.89 906.63 L324.92 907.05 L321.96 907.51 L319 908" fill="none" stroke="#dc4a2c" stroke-width="2.5" stroke-linejoin="round"/>
<path d="M319 914.4 L320.67 912.01 L322.42 909.69 L324.29 907.49 L326.33 905.48 L328.55 903.67 L330.94 902.08 L333.49 900.71 L336.16 899.53 L338.93 898.52 L341.77 897.65 L344.66 896.88 L347.57 896.19 L350.51 895.57 L353.45 895 L356.41 894.46 L359.37 893.94 L362.34 893.43 L365.3 892.93 L368.27 892.44 L371.23 891.94 L374.2 891.45 L377.17 890.97 L380.14 890.49 L383.11 890.03 L386.08 889.58 L389.06 889.14 L392.03 888.72 L395.01 888.31 L398 887.92 L400.98 887.55 L403.97 887.2 L406.95 886.86 L409.94 886.53 L412.93 886.23 L415.93 885.93 L418.92 885.65 L421.91 885.37 L424.91 885.1 L427.91 884.84 L430.9 884.59 L433.9 884.33 L436.9 884.08 L439.89 883.82 L442.89 883.57 L445.89 883.31 L448.88 883.05 L451.88 882.79 L454.87 882.52 L457.87 882.25 L460.86 881.97 L463.86 881.68 L466.85 881.38 L469.84 881.07 L472.83 880.76 L475.82 880.43 L478.81 880.08 L481.79 879.73 L484.78 879.36 L487.76 878.97 L490.74 878.57 L493.72 878.16 L496.69 877.73 L499.67 877.3 L502.64 876.85 L505.62 876.39 L508.59 875.93 L511.56 875.45 L514.53 874.97 L517.49 874.48 L520.46 873.98 L523.42 873.48 L526.39 872.96 L529.35 872.44 L532.31 871.91 L535.27 871.38 L538.23 870.83 L541.18 870.28 L544.14 869.72 L547.09 869.15 L550.04 868.57 L552.99 867.98 L555.94 867.38 L558.88 866.77 L561.82 866.15 L564.76 865.51 L567.69 864.85 L570.62 864.17 L573.54 863.46 L576.46 862.73 L579.36 861.96 L582.26 861.15 L585.14 860.3 L588 859.39 L590.85 858.44 L593.68 857.44 L596.49 856.39 L599.29 855.29 L602.07 854.16 L604.84 853 L607.61 851.82 L610.37 850.63 L613.14 849.44 L615.9 848.26 L618.66 847.08 L621.43 845.9 L624.2 844.72 L626.96 843.54 L629.72 842.34 L632.48 841.14 L635.23 839.93 L637.97 838.7 L640.71 837.45 L643.43 836.18 L646.15 834.89 L648.85 833.58 L651.54 832.24 L654.22 830.87 L656.88 829.47 L659.53 828.04 L662.15 826.58 L664.76 825.09 L667.35 823.57 L669.93 822.01 L672.48 820.43 L675.02 818.82 L677.54 817.19 L680.05 815.53 L682.54 813.84 L685.02 812.14 L687.47 810.41 L689.91 808.65 L692.33 806.87 L694.73 805.05 L697.1 803.21 L699.44 801.32 L701.75 799.4 L704.02 797.44 L706.26 795.44 L708.47 793.4 L710.64 791.33 L712.78 789.22 L714.89 787.08 L716.96 784.91 L719.01 782.71 L721.03 780.48 L723.03 778.23 L725 775.96 L726.94 773.67 L728.85 771.35 L730.73 769.01 L732.58 766.64 L734.4 764.25 L736.2 761.84 L737.97 759.41 L739.72 756.96 L741.45 754.51 L743.17 752.04 L744.89 749.57 L746.6 747.1 L746.31 748.06 L745.43 750.94 L744.56 753.82 L743.68 756.7 L742.79 759.57 L741.89 762.44 L740.97 765.31 L740.02 768.16 L739.04 771 L738.02 773.83 L736.95 776.64 L735.82 779.43 L734.64 782.19 L733.39 784.92 L732.09 787.62 L730.72 790.3 L729.29 792.94 L727.81 795.55 L726.28 798.14 L724.7 800.69 L723.06 803.21 L721.38 805.7 L719.65 808.16 L717.87 810.58 L716.04 812.96 L714.16 815.3 L712.22 817.59 L710.22 819.83 L708.17 822.02 L706.06 824.15 L703.89 826.23 L701.67 828.24 L699.39 830.19 L697.06 832.08 L694.68 833.91 L692.26 835.68 L689.79 837.4 L687.29 839.06 L684.75 840.67 L682.19 842.24 L679.6 843.76 L676.98 845.24 L674.34 846.68 L671.68 848.08 L669 849.44 L666.3 850.77 L663.58 852.06 L660.85 853.32 L658.1 854.54 L655.35 855.74 L652.58 856.92 L649.79 858.07 L647.01 859.2 L644.21 860.31 L641.41 861.41 L638.6 862.49 L635.79 863.56 L632.97 864.62 L630.15 865.68 L627.33 866.72 L624.5 867.76 L621.67 868.78 L618.84 869.79 L616 870.79 L613.15 871.77 L610.3 872.73 L607.44 873.68 L604.58 874.6 L601.71 875.5 L598.83 876.38 L595.95 877.23 L593.05 878.06 L590.15 878.87 L587.25 879.64 L584.33 880.39 L581.41 881.11 L578.48 881.8 L575.55 882.47 L572.61 883.1 L569.66 883.72 L566.71 884.3 L563.76 884.87 L560.8 885.41 L557.83 885.93 L554.87 886.44 L551.9 886.92 L548.92 887.4 L545.95 887.86 L542.97 888.3 L540 888.74 L537.02 889.16 L534.03 889.57 L531.05 889.98 L528.07 890.38 L525.08 890.77 L522.1 891.15 L519.11 891.53 L516.13 891.9 L513.14 892.26 L510.15 892.63 L507.16 892.99 L504.17 893.34 L501.18 893.7 L498.2 894.05 L495.21 894.39 L492.22 894.74 L489.22 895.07 L486.23 895.4 L483.24 895.73 L480.25 896.04 L477.25 896.35 L474.26 896.65 L471.26 896.94 L468.27 897.22 L465.27 897.5 L462.27 897.77 L459.27 898.04 L456.27 898.3 L453.28 898.55 L450.28 898.81 L447.28 899.06 L444.28 899.31 L441.28 899.55 L438.28 899.8 L435.28 900.04 L432.28 900.28 L429.28 900.53 L426.28 900.77 L423.28 901.02 L420.28 901.27 L417.28 901.53 L414.28 901.79 L411.28 902.05 L408.29 902.33 L405.29 902.61 L402.29 902.89 L399.3 903.19 L396.3 903.49 L393.31 903.8 L390.32 904.11 L387.32 904.43 L384.33 904.76 L381.34 905.09 L378.35 905.44 L375.36 905.79 L372.38 906.16 L369.39 906.55 L366.41 906.95 L363.44 907.37 L360.47 907.81 L357.5 908.25 L354.53 908.69 L351.56 909.11 L348.58 909.51 L345.6 909.89 L342.62 910.25 L339.64 910.62 L336.66 911.01 L333.69 911.43 L330.73 911.91 L327.78 912.46 L324.84 913.06 L321.92 913.72 L319 914.4" fill="none" stroke="#2a3580" stroke-width="2.5" stroke-linejoin="round"/>
<path d="M319 928.4 L319.82 925.63 L320.74 922.91 L321.83 920.27 L323.15 917.75 L324.71 915.37 L326.5 913.12 L328.49 910.99 L330.63 908.98 L332.9 907.08 L335.27 905.27 L337.72 903.56 L340.23 901.93 L342.8 900.39 L345.42 898.93 L348.08 897.55 L350.78 896.25 L353.52 895.04 L356.3 893.91 L359.12 892.87 L361.96 891.92 L364.83 891.04 L367.72 890.24 L370.64 889.49 L373.56 888.8 L376.5 888.16 L379.45 887.55 L382.41 886.98 L385.37 886.43 L388.33 885.9 L391.3 885.38 L394.27 884.88 L397.24 884.39 L400.21 883.91 L403.18 883.43 L406.16 882.97 L409.14 882.51 L412.11 882.06 L415.09 881.63 L418.07 881.2 L421.06 880.78 L424.04 880.37 L427.02 879.96 L430.01 879.56 L432.99 879.16 L435.98 878.76 L438.96 878.37 L441.95 877.97 L444.93 877.57 L447.92 877.17 L450.9 876.76 L453.89 876.36 L456.87 875.94 L459.85 875.52 L462.84 875.1 L465.82 874.67 L468.79 874.23 L471.77 873.77 L474.75 873.31 L477.72 872.84 L480.69 872.35 L483.66 871.84 L486.63 871.32 L489.59 870.78 L492.55 870.22 L495.5 869.65 L498.46 869.06 L501.41 868.45 L504.35 867.83 L507.3 867.2 L510.24 866.55 L513.18 865.89 L516.11 865.21 L519.04 864.52 L521.97 863.82 L524.9 863.11 L527.82 862.38 L530.74 861.65 L533.66 860.9 L536.57 860.14 L539.48 859.36 L542.39 858.58 L545.29 857.78 L548.19 856.97 L551.09 856.14 L553.98 855.3 L556.87 854.45 L559.75 853.57 L562.62 852.67 L565.48 851.74 L568.33 850.78 L571.17 849.78 L574 848.74 L576.81 847.67 L579.6 846.56 L582.38 845.41 L585.15 844.22 L587.9 843 L590.64 841.75 L593.37 840.48 L596.09 839.19 L598.8 837.87 L601.5 836.54 L604.19 835.19 L606.87 833.81 L609.54 832.42 L612.19 831.01 L614.84 829.57 L617.48 828.12 L620.11 826.65 L622.73 825.17 L625.34 823.67 L627.95 822.16 L630.54 820.64 L633.14 819.11 L635.73 817.57 L638.31 816.02 L640.89 814.46 L643.46 812.9 L646.03 811.33 L648.59 809.74 L651.14 808.14 L653.69 806.53 L656.22 804.9 L658.74 803.25 L661.24 801.58 L663.72 799.88 L666.18 798.15 L668.62 796.39 L671.04 794.59 L673.42 792.76 L675.78 790.89 L678.11 788.98 L680.4 787.04 L682.67 785.06 L684.91 783.05 L687.12 781.01 L689.31 778.94 L691.47 776.85 L693.61 774.73 L695.74 772.6 L697.84 770.44 L699.92 768.27 L701.97 766.07 L704.01 763.85 L706.01 761.61 L707.99 759.34 L709.94 757.04 L711.86 754.73 L713.76 752.39 L715.64 750.04 L717.51 747.68 L719.35 745.3 L721.19 742.91 L723 740.51 L724.81 738.1 L726.59 735.67 L728.36 733.24 L730.11 730.79 L731.84 728.32 L733.55 725.85 L735.24 723.36 L736.91 720.85 L738.56 718.33 L740.19 715.8 L741.81 713.26 L743.41 710.71 L745.01 708.16 L746.6 705.6 L746.3 706.56 L745.4 709.43 L744.51 712.3 L743.6 715.17 L742.7 718.04 L741.79 720.9 L740.87 723.77 L739.94 726.63 L739 729.48 L738.05 732.33 L737.08 735.18 L736.1 738.02 L735.1 740.86 L734.08 743.69 L733.06 746.52 L732.02 749.34 L730.96 752.15 L729.89 754.96 L728.81 757.77 L727.71 760.57 L726.58 763.35 L725.43 766.13 L724.25 768.9 L723.05 771.65 L721.82 774.39 L720.55 777.12 L719.26 779.83 L717.93 782.53 L716.57 785.21 L715.19 787.88 L713.76 790.52 L712.3 793.15 L710.79 795.74 L709.24 798.31 L707.63 800.85 L705.98 803.35 L704.26 805.82 L702.5 808.24 L700.68 810.63 L698.8 812.97 L696.88 815.27 L694.91 817.54 L692.89 819.76 L690.83 821.95 L688.74 824.1 L686.61 826.22 L684.44 828.3 L682.25 830.35 L680.02 832.37 L677.76 834.36 L675.48 836.31 L673.17 838.23 L670.84 840.12 L668.47 841.98 L666.08 843.8 L663.66 845.58 L661.21 847.31 L658.73 849 L656.22 850.64 L653.67 852.24 L651.1 853.79 L648.5 855.29 L645.88 856.76 L643.24 858.2 L640.58 859.61 L637.92 861 L635.24 862.37 L632.56 863.73 L629.87 865.08 L627.18 866.42 L624.48 867.75 L621.78 869.07 L619.07 870.37 L616.35 871.65 L613.62 872.92 L610.89 874.17 L608.14 875.39 L605.39 876.59 L602.62 877.77 L599.84 878.92 L597.05 880.03 L594.25 881.12 L591.43 882.17 L588.6 883.18 L585.76 884.16 L582.91 885.1 L580.04 886 L577.16 886.86 L574.27 887.68 L571.37 888.46 L568.46 889.2 L565.53 889.91 L562.6 890.58 L559.67 891.22 L556.72 891.83 L553.78 892.42 L550.82 892.98 L547.86 893.52 L544.9 894.04 L541.94 894.55 L538.97 895.03 L536 895.51 L533.03 895.98 L530.06 896.43 L527.08 896.88 L524.11 897.31 L521.13 897.75 L518.16 898.18 L515.18 898.6 L512.2 899.03 L509.22 899.45 L506.25 899.88 L503.27 900.31 L500.29 900.74 L497.32 901.17 L494.34 901.61 L491.37 902.05 L488.39 902.49 L485.42 902.92 L482.44 903.36 L479.46 903.79 L476.49 904.21 L473.51 904.63 L470.53 905.05 L467.55 905.46 L464.57 905.87 L461.59 906.27 L458.61 906.67 L455.63 907.07 L452.65 907.46 L449.67 907.85 L446.68 908.24 L443.7 908.63 L440.72 909.02 L437.74 909.4 L434.75 909.79 L431.77 910.17 L428.79 910.56 L425.81 910.95 L422.82 911.33 L419.84 911.73 L416.86 912.12 L413.88 912.52 L410.9 912.92 L407.92 913.32 L404.94 913.73 L401.96 914.15 L398.98 914.56 L396 914.99 L393.03 915.41 L390.05 915.84 L387.07 916.28 L384.1 916.72 L381.12 917.16 L378.15 917.61 L375.18 918.07 L372.21 918.53 L369.24 919.01 L366.27 919.5 L363.31 920.01 L360.35 920.53 L357.39 921.07 L354.44 921.63 L351.49 922.19 L348.53 922.75 L345.58 923.31 L342.63 923.86 L339.67 924.42 L336.72 924.98 L333.76 925.54 L330.81 926.11 L327.86 926.68 L324.9 927.25 L321.95 927.83 L319 928.4" fill="none" stroke="#9c66ad" stroke-width="2.5" stroke-linejoin="round"/>
<path d="M319 947.5 L319.46 944.55 L319.97 941.61 L320.57 938.69 L321.3 935.82 L322.18 933 L323.23 930.24 L324.46 927.55 L325.84 924.94 L327.38 922.41 L329.04 919.94 L330.81 917.54 L332.65 915.18 L334.55 912.85 L336.48 910.56 L338.45 908.29 L340.46 906.05 L342.5 903.86 L344.59 901.72 L346.75 899.65 L348.98 897.68 L351.29 895.82 L353.69 894.09 L356.19 892.5 L358.76 891.04 L361.42 889.7 L364.12 888.44 L366.87 887.25 L369.64 886.1 L372.43 884.98 L375.23 883.89 L378.04 882.82 L380.87 881.78 L383.7 880.77 L386.54 879.8 L389.4 878.86 L392.27 877.96 L395.15 877.1 L398.04 876.28 L400.94 875.49 L403.86 874.75 L406.78 874.04 L409.71 873.36 L412.65 872.71 L415.59 872.09 L418.54 871.48 L421.49 870.9 L424.44 870.33 L427.4 869.77 L430.36 869.23 L433.32 868.69 L436.28 868.16 L439.24 867.63 L442.21 867.11 L445.17 866.59 L448.14 866.08 L451.1 865.56 L454.07 865.05 L457.03 864.53 L459.99 864.02 L462.96 863.5 L465.92 862.97 L468.88 862.45 L471.85 861.91 L474.81 861.37 L477.76 860.83 L480.72 860.27 L483.68 859.7 L486.63 859.13 L489.58 858.55 L492.53 857.95 L495.48 857.36 L498.43 856.75 L501.38 856.15 L504.32 855.53 L507.27 854.92 L510.21 854.3 L513.16 854.09 L516.1 855.18 L519.04 852.7 L521.98 851.77 L524.92 851.12 L527.86 850.47 L530.79 849.8 L533.72 849.12 L536.65 848.43 L539.57 847.72 L542.49 847 L545.41 846.26 L548.32 845.49 L551.22 844.7 L554.11 843.88 L557 843.03 L559.87 842.14 L562.73 841.21 L565.57 840.23 L568.39 839.2 L571.2 838.12 L573.98 836.99 L576.74 835.81 L579.48 834.57 L582.19 833.29 L584.89 831.96 L587.58 830.61 L590.25 829.22 L592.91 827.82 L595.56 826.4 L598.21 824.97 L600.85 823.53 L603.48 822.07 L606.1 820.59 L608.72 819.1 L611.32 817.59 L613.91 816.07 L616.49 814.53 L619.07 812.97 L621.63 811.39 L624.19 809.81 L626.74 808.21 L629.28 806.6 L631.81 804.97 L634.34 803.34 L636.86 801.69 L639.37 800.03 L641.87 798.36 L644.35 796.67 L646.82 794.95 L649.27 793.21 L651.7 791.43 L654.1 789.62 L656.46 787.77 L658.79 785.88 L661.09 783.94 L663.35 781.96 L665.57 779.93 L667.75 777.87 L669.91 775.77 L672.03 773.64 L674.12 771.48 L676.19 769.3 L678.24 767.1 L680.28 764.89 L682.3 762.66 L684.32 760.42 L686.32 758.18 L688.32 755.93 L690.32 753.68 L692.31 751.43 L694.29 749.17 L696.27 746.9 L698.23 744.62 L700.18 742.32 L702.11 740.02 L704.02 737.69 L705.9 735.35 L707.76 732.98 L709.6 730.6 L711.42 728.21 L713.22 725.79 L714.99 723.37 L716.74 720.92 L718.47 718.46 L720.17 715.98 L721.84 713.48 L723.47 710.95 L725.06 708.4 L726.61 705.83 L728.11 703.22 L729.57 700.6 L730.97 697.94 L732.34 695.26 L733.67 692.57 L734.96 689.85 L736.22 687.12 L737.46 684.38 L738.68 681.63 L739.88 678.87 L741.08 676.11 L742.27 673.35 L743.45 670.58 L744.63 667.81 L745.81 665.05 L746.6 663.2 L746.4 664.18 L745.82 667.13 L745.23 670.08 L744.64 673.03 L744.05 675.98 L743.47 678.93 L742.88 681.88 L742.28 684.83 L741.68 687.78 L741.07 690.72 L740.45 693.67 L739.82 696.61 L739.18 699.55 L738.51 702.48 L737.83 705.41 L737.13 708.33 L736.4 711.25 L735.65 714.16 L734.86 717.06 L734.05 719.96 L733.21 722.84 L732.34 725.72 L731.45 728.59 L730.52 731.45 L729.57 734.31 L728.6 737.15 L727.6 739.99 L726.58 742.82 L725.53 745.64 L724.46 748.45 L723.37 751.25 L722.26 754.04 L721.13 756.83 L719.98 759.61 L718.81 762.38 L717.62 765.14 L716.41 767.89 L715.17 770.63 L713.91 773.36 L712.62 776.08 L711.3 778.78 L709.95 781.46 L708.57 784.13 L707.14 786.78 L705.69 789.41 L704.19 792.02 L702.67 794.6 L701.11 797.17 L699.52 799.72 L697.9 802.26 L696.25 804.77 L694.57 807.27 L692.87 809.75 L691.15 812.21 L689.39 814.65 L687.61 817.07 L685.8 819.47 L683.95 821.84 L682.07 824.18 L680.15 826.49 L678.19 828.77 L676.19 831.01 L674.15 833.22 L672.07 835.38 L669.94 837.5 L667.77 839.57 L665.55 841.59 L663.29 843.56 L660.98 845.48 L658.63 847.34 L656.24 849.15 L653.81 850.91 L651.34 852.63 L648.85 854.31 L646.33 855.95 L643.8 857.57 L641.25 859.16 L638.69 860.74 L636.12 862.31 L633.55 863.87 L630.97 865.41 L628.38 866.95 L625.79 868.48 L623.2 870 L620.59 871.5 L617.98 872.99 L615.36 874.47 L612.73 875.93 L610.09 877.36 L607.44 878.78 L604.77 880.18 L602.1 881.55 L599.41 882.89 L596.7 884.21 L593.99 885.49 L591.25 886.75 L588.51 887.97 L585.75 889.15 L582.97 890.31 L580.18 891.42 L577.37 892.5 L574.55 893.54 L571.72 894.54 L568.87 895.51 L566.02 896.45 L563.15 897.36 L560.28 898.23 L557.39 899.09 L554.5 899.92 L551.6 900.72 L548.7 901.5 L545.79 902.27 L542.88 903.02 L539.96 903.75 L537.04 904.46 L534.12 905.16 L531.19 905.85 L528.26 906.52 L525.32 907.19 L522.39 907.84 L519.45 908.48 L516.51 909.12 L513.57 909.75 L510.62 910.37 L507.68 910.98 L504.73 911.59 L501.79 912.2 L498.84 912.8 L495.89 913.39 L492.94 913.97 L489.99 914.55 L487.03 915.11 L484.08 915.67 L481.12 916.21 L478.16 916.74 L475.2 917.25 L472.23 917.75 L469.26 918.24 L466.29 918.72 L463.32 919.19 L460.35 919.65 L457.38 920.1 L454.4 920.55 L451.42 920.98 L448.45 921.42 L445.47 921.84 L442.49 922.27 L439.51 922.69 L436.54 923.11 L433.56 923.53 L430.58 923.95 L427.6 924.37 L424.62 924.79 L421.65 925.22 L418.67 925.65 L415.69 926.09 L412.72 926.54 L409.75 928.73 L406.78 928.27 L403.81 927.95 L400.84 928.45 L397.87 928.95 L394.91 929.47 L391.95 929.99 L388.99 930.53 L386.03 931.07 L383.08 931.63 L380.12 932.18 L377.17 932.75 L374.21 933.32 L371.26 933.89 L368.31 934.46 L365.36 935.05 L362.42 935.65 L359.48 936.28 L356.56 936.95 L353.65 937.67 L350.76 938.45 L347.88 939.29 L345.01 940.17 L342.14 941.07 L339.28 941.98 L336.41 942.88 L333.54 943.75 L330.65 944.57 L327.75 945.36 L324.84 946.1 L321.92 946.81 L319 947.5" fill="none" stroke="#4f7a38" stroke-width="2.5" stroke-linejoin="round"/>
<g fill="none" stroke="#000" stroke-linecap="butt">
<line x1="1036.7" y1="607.2" x2="1036.7" y2="991.55" stroke-width="2.7"/>
<line x1="1035.35" y1="990.2" x2="1551" y2="990.2" stroke-width="2.7"/>
<line x1="1078.2" y1="990.2" x2="1078.2" y2="998.7" stroke-width="2.3"/>
<line x1="1164.04" y1="990.2" x2="1164.04" y2="998.7" stroke-width="2.3"/>
<line x1="1249.88" y1="990.2" x2="1249.88" y2="998.7" stroke-width="2.3"/>
<line x1="1335.72" y1="990.2" x2="1335.72" y2="998.7" stroke-width="2.3"/>
<line x1="1421.56" y1="990.2" x2="1421.56" y2="998.7" stroke-width="2.3"/>
<line x1="1507.4" y1="990.2" x2="1507.4" y2="998.7" stroke-width="2.3"/>
<line x1="1028.2" y1="637.3" x2="1036.7" y2="637.3" stroke-width="2.3"/>
<line x1="1028.2" y1="696.15" x2="1036.7" y2="696.15" stroke-width="2.3"/>
<line x1="1028.2" y1="755" x2="1036.7" y2="755" stroke-width="2.3"/>
<line x1="1028.2" y1="813.85" x2="1036.7" y2="813.85" stroke-width="2.3"/>
<line x1="1028.2" y1="872.7" x2="1036.7" y2="872.7" stroke-width="2.3"/>
<line x1="1028.2" y1="931.55" x2="1036.7" y2="931.55" stroke-width="2.3"/>
<line x1="1028.2" y1="990.4" x2="1036.7" y2="990.4" stroke-width="2.3"/>
</g>
<text transform="translate(1078.2 1026.5) scale(0.92 1)" font-family="'Liberation Serif','Times New Roman',serif" font-weight="bold" font-size="32" text-anchor="middle">-0.2</text>
<text transform="translate(1164.04 1026.5) scale(0.92 1)" font-family="'Liberation Serif','Times New Roman',serif" font-weight="bold" font-size="32" text-anchor="middle">0.0</text>
<text transform="translate(1249.88 1026.5) scale(0.92 1)" font-family="'Liberation Serif','Times New Roman',serif" font-weight="bold" font-size="32" text-anchor="middle">0.2</text>
<text transform="translate(1335.72 1026.5) scale(0.92 1)" font-family="'Liberation Serif','Times New Roman',serif" font-weight="bold" font-size="32" text-anchor="middle">0.4</text>
<text transform="translate(1421.56 1026.5) scale(0.92 1)" font-family="'Liberation Serif','Times New Roman',serif" font-weight="bold" font-size="32" text-anchor="middle">0.6</text>
<text transform="translate(1507.4 1026.5) scale(0.92 1)" font-family="'Liberation Serif','Times New Roman',serif" font-weight="bold" font-size="32" text-anchor="middle">0.8</text>
<text transform="translate(1023 646.9) scale(0.92 1)" font-family="'Liberation Serif','Times New Roman',serif" font-weight="bold" font-size="32" text-anchor="end">0.08</text>
<text transform="translate(1023 705.75) scale(0.92 1)" font-family="'Liberation Serif','Times New Roman',serif" font-weight="bold" font-size="32" text-anchor="end">0.06</text>
<text transform="translate(1023 764.6) scale(0.92 1)" font-family="'Liberation Serif','Times New Roman',serif" font-weight="bold" font-size="32" text-anchor="end">0.04</text>
<text transform="translate(1023 823.45) scale(0.92 1)" font-family="'Liberation Serif','Times New Roman',serif" font-weight="bold" font-size="32" text-anchor="end">0.02</text>
<text transform="translate(1023 882.3) scale(0.92 1)" font-family="'Liberation Serif','Times New Roman',serif" font-weight="bold" font-size="32" text-anchor="end">0.00</text>
<text transform="translate(1023 941.15) scale(0.92 1)" font-family="'Liberation Serif','Times New Roman',serif" font-weight="bold" font-size="32" text-anchor="end">-0.02</text>
<text transform="translate(1023 1000) scale(0.92 1)" font-family="'Liberation Serif','Times New Roman',serif" font-weight="bold" font-size="32" text-anchor="end">-0.04</text>
<text transform="translate(1284.6 1051)" font-family="'Liberation Serif','Times New Roman',serif" font-weight="bold" font-size="30.3" text-anchor="middle">Potential (V)</text>
<text transform="translate(953 815.7) rotate(-90)" font-family="'Liberation Serif','Times New Roman',serif" font-weight="bold" font-size="30.3" text-anchor="middle" lengthAdjust="spacingAndGlyphs">Current (mA)</text>
<text transform="translate(926.9 598.4)" font-family="'Liberation Sans',Arial,sans-serif" font-weight="normal" font-size="51.5" text-anchor="start" stroke="#fdfcf9" stroke-width="0.9">(d)</text>
<g stroke="#555" stroke-width="1.2"><line x1="1070.5" y1="604.5" x2="1238.5" y2="604.5"/><line x1="1070.5" y1="782" x2="1238.5" y2="782"/></g>
<line x1="1078.5" y1="629.5" x2="1120.5" y2="629.5" stroke="#000000" stroke-width="3"/>
<text transform="translate(1125 635.7) scale(0.935 1)" font-family="'Liberation Serif','Times New Roman',serif" font-weight="bold" font-size="26">5 mV s<tspan font-size="14" dy="-13.8">-1</tspan></text>
<line x1="1078.5" y1="664.7" x2="1120.5" y2="664.7" stroke="#dc4a2c" stroke-width="2.6"/>
<text transform="translate(1125 670.9) scale(0.935 1)" font-family="'Liberation Serif','Times New Roman',serif" font-weight="bold" font-size="26">10 mV s<tspan font-size="14" dy="-13.8">-1</tspan></text>
<line x1="1078.5" y1="699.5" x2="1120.5" y2="699.5" stroke="#2a3580" stroke-width="2.6"/>
<text transform="translate(1125 705.7) scale(0.935 1)" font-family="'Liberation Serif','Times New Roman',serif" font-weight="bold" font-size="26">20 mV s<tspan font-size="14" dy="-13.8">-1</tspan></text>
<line x1="1078.5" y1="734.3" x2="1120.5" y2="734.3" stroke="#9c66ad" stroke-width="2.6"/>
<text transform="translate(1125 740.5) scale(0.935 1)" font-family="'Liberation Serif','Times New Roman',serif" font-weight="bold" font-size="26">50 mV s<tspan font-size="14" dy="-13.8">-1</tspan></text>
<line x1="1078.5" y1="769.5" x2="1120.5" y2="769.5" stroke="#4f7a38" stroke-width="2.6"/>
<text transform="translate(1125 775.7) scale(0.935 1)" font-family="'Liberation Serif','Times New Roman',serif" font-weight="bold" font-size="26">100 mV s<tspan font-size="14" dy="-13.8">-1</tspan></text>
<path d="M1078.2 886.7 L1080.92 885.47 L1083.65 884.28 L1086.42 883.17 L1089.22 882.18 L1092.06 881.31 L1094.95 880.57 L1097.87 879.96 L1100.81 879.46 L1103.77 879.06 L1106.75 878.72 L1109.74 878.42 L1112.73 878.14 L1115.72 877.85 L1118.71 877.54 L1121.69 877.19 L1124.67 876.81 L1127.65 876.4 L1130.62 875.96 L1133.59 875.5 L1136.56 875.03 L1139.53 874.56 L1142.5 874.1 L1145.47 873.64 L1148.45 873.2 L1151.42 872.77 L1154.4 872.36 L1157.38 871.97 L1160.37 871.6 L1163.35 871.25 L1166.34 870.91 L1169.33 870.59 L1172.32 870.28 L1175.31 869.98 L1178.31 869.69 L1181.3 869.41 L1184.29 869.13 L1187.29 868.86 L1190.28 868.6 L1193.28 868.33 L1196.28 868.07 L1199.27 867.81 L1202.27 867.55 L1205.26 867.29 L1208.26 867.03 L1211.26 866.77 L1214.25 866.51 L1217.25 866.24 L1220.24 865.98 L1223.24 865.71 L1226.23 865.43 L1229.23 865.15 L1232.22 864.87 L1235.21 864.58 L1238.21 864.29 L1241.2 864 L1244.19 863.69 L1247.18 863.39 L1250.17 863.09 L1253.16 862.78 L1256.16 862.48 L1259.15 862.18 L1262.14 861.88 L1265.13 861.59 L1268.13 861.3 L1271.12 861.01 L1274.11 860.73 L1277.11 860.44 L1280.1 860.15 L1283.09 859.86 L1286.09 859.56 L1289.08 859.25 L1292.07 858.93 L1295.06 858.6 L1298.04 858.27 L1301.03 857.91 L1304.01 857.54 L1307 857.16 L1309.97 856.75 L1312.95 856.33 L1315.92 855.88 L1318.89 855.41 L1321.86 854.91 L1324.82 854.39 L1327.77 853.84 L1330.72 853.27 L1333.67 852.67 L1336.61 852.04 L1339.54 851.39 L1342.47 850.71 L1345.39 850 L1348.31 849.28 L1351.23 848.53 L1354.13 847.77 L1357.04 846.99 L1359.93 846.19 L1362.83 845.37 L1365.72 844.54 L1368.6 843.69 L1371.49 842.84 L1374.36 841.96 L1377.24 841.08 L1380.11 840.18 L1382.97 839.36 L1385.83 838.16 L1388.69 837.42 L1391.54 837.12 L1394.39 836.33 L1397.24 833.7 L1400.08 832.89 L1402.91 831.54 L1405.74 831.38 L1408.56 829.44 L1411.38 829.33 L1414.18 828.68 L1416.98 826.76 L1419.76 826.49 L1422.52 825.13 L1425.26 822.66 L1427.98 822.56 L1430.66 820.56 L1433.31 819.5 L1435.93 817.74 L1438.51 817.12 L1441.06 814.97 L1443.57 812.71 L1446.06 811.89 L1448.54 810.71 L1451.01 807.96 L1453.5 806.09 L1456 804.8 L1458.53 804.41 L1461.1 802.95 L1463.69 800.79 L1466.31 799.84 L1468.93 798.27 L1471.54 795.78 L1474.12 793.64 L1476.67 793.31 L1479.16 791.45 L1481.62 789.31 L1484.04 787.24 L1486.43 785.84 L1488.82 784.15 L1491.19 781.87 L1493.56 780.06 L1495.91 778.56 L1498.25 777.24 L1500.58 774.87 L1502.88 772.94 L1505.18 771 L1506.7 769.7 L1505.38 772.4 L1504.05 775.1 L1502.68 777.77 L1501.26 780.42 L1499.78 782.99 L1498.21 785.82 L1496.54 788.59 L1494.75 790.44 L1492.84 791.68 L1490.8 795.82 L1488.62 796.88 L1486.33 797.93 L1483.95 801.57 L1481.5 802.37 L1479.01 802.53 L1476.5 806.52 L1473.97 806.91 L1471.45 807.92 L1468.93 811.37 L1466.41 811.41 L1463.91 812.49 L1461.41 814.99 L1458.92 817.78 L1456.44 819.16 L1453.97 820.4 L1451.49 821.5 L1449 822.68 L1446.49 825.45 L1443.96 827.16 L1441.4 829.59 L1438.81 830.5 L1436.18 831.56 L1433.53 833.19 L1430.84 834.29 L1428.12 835.63 L1425.37 836.84 L1422.6 838 L1419.8 839.1 L1416.99 840.16 L1414.16 841.19 L1411.32 842.17 L1408.47 843.14 L1405.61 844.07 L1402.74 844.99 L1399.87 845.88 L1396.99 846.76 L1394.11 847.62 L1391.22 848.47 L1388.33 849.3 L1385.43 850.12 L1382.53 850.93 L1379.63 851.72 L1376.72 852.5 L1373.81 853.27 L1370.9 854.02 L1367.98 854.76 L1365.06 855.49 L1362.14 856.21 L1359.22 856.92 L1356.29 857.61 L1353.36 858.29 L1350.42 858.96 L1347.48 859.62 L1344.54 860.25 L1341.6 860.88 L1338.65 861.48 L1335.7 862.07 L1332.75 862.64 L1329.79 863.19 L1326.83 863.73 L1323.86 864.24 L1320.89 864.73 L1317.92 865.21 L1314.95 865.66 L1311.97 866.1 L1308.99 866.52 L1306.01 866.93 L1303.02 867.32 L1300.04 867.7 L1297.05 868.06 L1294.06 868.42 L1291.07 868.76 L1288.08 869.09 L1285.09 869.41 L1282.1 869.73 L1279.1 870.03 L1276.11 870.33 L1273.11 870.63 L1270.12 870.92 L1267.12 871.2 L1264.12 871.48 L1261.13 871.76 L1258.13 872.04 L1255.13 872.31 L1252.13 872.58 L1249.14 872.85 L1246.14 873.11 L1243.14 873.36 L1240.14 873.6 L1238.64 873.72 L1237.14 873.83 L1235.64 873.94 L1234.14 874.06 L1232.64 874.16 L1231.14 874.27 L1229.63 874.37 L1228.13 874.48 L1226.63 874.58 L1225.13 874.68 L1223.63 874.77 L1222.13 874.87 L1220.62 874.96 L1219.12 875.05 L1217.62 875.14 L1216.12 875.23 L1214.62 875.32 L1213.11 875.41 L1211.61 875.5 L1210.11 875.58 L1208.61 875.67 L1207.1 875.75 L1205.6 875.83 L1204.1 875.91 L1202.6 876 L1201.09 876.08 L1199.59 876.16 L1198.09 876.24 L1196.58 876.32 L1195.08 876.4 L1193.58 876.48 L1192.08 876.56 L1190.57 876.64 L1189.07 876.72 L1187.57 876.8 L1186.07 876.88 L1184.56 876.97 L1183.06 877.05 L1181.56 877.14 L1180.06 877.22 L1178.55 877.31 L1177.05 877.4 L1175.55 877.49 L1174.05 877.58 L1172.55 877.67 L1171.04 877.77 L1169.54 877.87 L1168.04 877.97 L1166.54 878.07 L1165.04 878.18 L1163.54 878.29 L1162.04 878.4 L1160.54 878.51 L1159.04 878.63 L1156.04 878.87 L1153.04 879.12 L1150.04 879.38 L1147.04 879.65 L1144.05 879.93 L1141.05 880.22 L1138.05 880.52 L1135.06 880.83 L1132.07 881.14 L1129.07 881.45 L1126.08 881.76 L1123.09 882.08 L1120.09 882.39 L1117.1 882.69 L1114.1 882.98 L1111.11 883.26 L1108.11 883.53 L1105.11 883.79 L1102.12 884.04 L1099.12 884.3 L1096.12 884.57 L1093.13 884.87 L1090.14 885.18 L1087.15 885.53 L1084.16 885.9 L1081.18 886.29 L1078.2 886.7" fill="none" stroke="#000000" stroke-width="2.5" stroke-linejoin="round"/>
<path d="M1078.2 892.3 L1080.5 890.49 L1082.85 888.74 L1085.28 887.13 L1087.81 885.69 L1090.45 884.42 L1093.18 883.31 L1095.98 882.35 L1098.84 881.49 L1101.73 880.72 L1104.64 880.01 L1107.57 879.33 L1110.51 878.68 L1113.46 878.06 L1116.41 877.45 L1119.36 876.86 L1122.31 876.28 L1125.27 875.71 L1128.22 875.16 L1131.18 874.61 L1134.15 874.07 L1137.11 873.55 L1140.08 873.04 L1143.04 872.55 L1146.02 872.07 L1148.99 871.61 L1151.97 871.17 L1154.95 870.75 L1157.93 870.34 L1160.92 869.95 L1163.9 869.58 L1166.89 869.22 L1169.88 868.87 L1172.87 868.53 L1175.86 868.21 L1178.86 867.89 L1181.85 867.58 L1184.85 867.28 L1187.84 866.98 L1190.84 866.68 L1193.83 866.39 L1196.83 866.1 L1199.83 865.82 L1202.82 865.53 L1205.82 865.24 L1208.82 864.95 L1211.81 864.66 L1214.81 864.37 L1217.8 864.07 L1220.8 863.77 L1223.79 863.47 L1226.79 863.17 L1229.78 862.85 L1232.78 862.54 L1235.77 862.21 L1238.76 861.88 L1241.75 861.55 L1244.74 861.2 L1247.73 860.86 L1250.72 860.51 L1253.71 860.16 L1256.7 859.81 L1259.69 859.45 L1262.68 859.11 L1265.67 858.76 L1268.66 858.41 L1271.65 858.07 L1274.64 857.72 L1277.63 857.37 L1280.62 857.02 L1283.61 856.66 L1286.6 856.29 L1289.59 855.92 L1292.57 855.54 L1295.56 855.15 L1298.54 854.74 L1301.52 854.33 L1304.5 853.89 L1307.47 853.45 L1310.45 852.98 L1313.42 852.5 L1316.39 852 L1319.35 851.47 L1322.31 850.93 L1325.27 850.36 L1328.22 849.77 L1331.16 849.15 L1334.1 848.51 L1337.04 847.85 L1339.97 847.16 L1342.89 846.45 L1345.81 845.72 L1348.73 844.97 L1351.64 844.21 L1354.54 843.42 L1357.44 842.62 L1360.34 841.81 L1363.24 840.98 L1366.13 840.14 L1369.01 839.28 L1371.89 838.41 L1374.77 837.53 L1377.65 836.64 L1380.52 835.74 L1383.39 834.83 L1386.25 833.9 L1389.11 832.97 L1391.97 832.02 L1394.82 831.06 L1397.67 830.09 L1400.52 829.1 L1403.36 828.11 L1406.19 827.09 L1409.02 826.06 L1411.84 825.01 L1414.64 823.93 L1417.44 822.82 L1420.21 821.66 L1422.96 820.45 L1425.67 819.17 L1428.34 817.82 L1430.95 816.37 L1433.51 814.82 L1436.01 813.18 L1438.45 811.46 L1440.85 809.67 L1443.22 807.83 L1445.58 805.98 L1447.95 804.15 L1450.35 802.34 L1452.77 800.58 L1455.23 798.85 L1457.72 797.16 L1460.22 795.49 L1462.72 793.83 L1465.22 792.16 L1467.72 790.47 L1470.19 788.77 L1472.66 787.04 L1475.1 785.28 L1477.53 783.5 L1479.93 781.7 L1482.32 779.87 L1484.69 778.01 L1487.04 776.13 L1489.37 774.23 L1491.68 772.3 L1493.97 770.35 L1496.24 768.38 L1498.5 766.39 L1500.75 764.38 L1502.98 762.37 L1505.21 760.35 L1506.7 759 L1505.69 761.82 L1504.66 764.63 L1503.56 767.41 L1502.38 770.16 L1501.1 772.85 L1499.72 775.5 L1498.25 778.1 L1496.69 780.65 L1495.04 783.14 L1493.33 785.59 L1491.53 787.98 L1489.66 790.31 L1487.7 792.56 L1485.65 794.73 L1483.52 796.82 L1481.32 798.84 L1479.05 800.79 L1476.74 802.7 L1474.38 804.57 L1472.01 806.4 L1469.61 808.21 L1467.19 810 L1464.77 811.78 L1462.33 813.53 L1459.88 815.27 L1457.42 817 L1454.96 818.72 L1452.49 820.43 L1450.02 822.14 L1447.54 823.85 L1445.06 825.54 L1442.57 827.21 L1440.05 828.83 L1437.5 830.39 L1434.91 831.88 L1432.27 833.29 L1429.58 834.61 L1426.86 835.86 L1424.1 837.03 L1421.32 838.15 L1418.52 839.23 L1415.7 840.27 L1412.87 841.28 L1410.03 842.28 L1407.19 843.26 L1404.34 844.22 L1401.49 845.18 L1398.64 846.12 L1395.78 847.06 L1392.92 847.98 L1390.06 848.9 L1387.19 849.8 L1384.32 850.7 L1381.45 851.58 L1378.57 852.46 L1375.69 853.32 L1372.81 854.17 L1369.92 855.02 L1367.03 855.85 L1364.14 856.66 L1361.24 857.46 L1358.34 858.25 L1355.43 859.03 L1352.52 859.78 L1349.61 860.52 L1346.69 861.24 L1343.77 861.94 L1340.84 862.62 L1337.91 863.27 L1334.97 863.9 L1332.02 864.5 L1329.07 865.08 L1326.12 865.63 L1323.16 866.16 L1320.2 866.67 L1317.23 867.15 L1314.26 867.61 L1311.29 868.05 L1308.31 868.48 L1305.33 868.88 L1302.35 869.27 L1299.37 869.64 L1296.38 870 L1293.4 870.35 L1290.41 870.69 L1287.42 871.01 L1284.43 871.33 L1281.44 871.64 L1278.45 871.95 L1275.46 872.25 L1272.47 872.55 L1269.47 872.84 L1266.48 873.14 L1263.49 873.44 L1260.5 873.74 L1257.51 874.04 L1254.52 874.34 L1251.53 874.64 L1248.53 874.94 L1245.54 875.24 L1242.55 875.54 L1239.56 875.83 L1236.56 876.12 L1233.57 876.4 L1230.58 876.67 L1227.58 876.94 L1224.59 877.21 L1221.59 877.47 L1218.6 877.73 L1215.6 877.98 L1212.61 878.23 L1209.61 878.47 L1206.61 878.72 L1203.62 878.96 L1200.62 879.2 L1197.62 879.44 L1194.62 879.68 L1191.63 879.92 L1188.63 880.16 L1185.63 880.4 L1182.64 880.64 L1179.64 880.89 L1176.64 881.13 L1173.65 881.38 L1170.65 881.64 L1167.66 881.9 L1164.66 882.17 L1161.67 882.44 L1158.67 882.71 L1155.68 883 L1152.69 883.28 L1149.7 883.57 L1146.7 883.87 L1143.71 884.17 L1140.72 884.48 L1137.73 884.79 L1134.74 885.11 L1131.75 885.44 L1128.77 885.77 L1125.78 886.12 L1122.8 886.48 L1119.82 886.84 L1116.84 887.19 L1113.85 887.54 L1110.87 887.86 L1107.88 888.17 L1104.9 888.45 L1101.91 888.74 L1098.92 889.03 L1095.94 889.35 L1092.96 889.71 L1089.99 890.12 L1087.03 890.6 L1084.08 891.12 L1081.14 891.7 L1078.2 892.3" fill="none" stroke="#dc4a2c" stroke-width="2.5" stroke-linejoin="round"/>
<path d="M1078.2 899.9 L1079.72 897.39 L1081.31 894.94 L1083.03 892.59 L1084.91 890.39 L1086.97 888.36 L1089.21 886.51 L1091.6 884.84 L1094.13 883.34 L1096.77 882 L1099.49 880.81 L1102.27 879.75 L1105.1 878.79 L1107.97 877.92 L1110.87 877.13 L1113.78 876.4 L1116.71 875.72 L1119.65 875.08 L1122.59 874.47 L1125.54 873.88 L1128.5 873.31 L1131.45 872.76 L1134.42 872.22 L1137.38 871.69 L1140.34 871.18 L1143.31 870.68 L1146.28 870.2 L1149.25 869.72 L1152.23 869.26 L1155.2 868.81 L1158.18 868.37 L1161.16 867.95 L1164.14 867.53 L1167.12 867.12 L1170.11 866.73 L1173.09 866.34 L1176.08 865.96 L1179.06 865.58 L1182.05 865.22 L1185.04 864.86 L1188.03 864.5 L1191.01 864.14 L1194 863.79 L1196.99 863.43 L1199.98 863.08 L1202.97 862.73 L1205.96 862.37 L1208.95 862.02 L1211.94 861.66 L1214.92 861.3 L1217.91 860.94 L1220.9 860.57 L1223.88 860.2 L1226.87 859.82 L1229.86 859.44 L1232.84 859.05 L1235.82 858.65 L1238.81 858.25 L1241.79 857.84 L1244.77 857.43 L1247.75 857.01 L1250.73 856.59 L1253.71 856.17 L1256.69 855.75 L1259.67 855.34 L1262.65 854.92 L1265.63 854.51 L1268.61 854.1 L1271.6 853.69 L1274.58 853.28 L1277.56 852.86 L1280.54 852.45 L1283.52 852.02 L1286.5 851.59 L1289.48 851.15 L1292.45 850.7 L1295.42 850.24 L1298.4 849.76 L1301.36 849.27 L1304.33 848.76 L1307.29 848.23 L1310.25 847.68 L1313.2 847.11 L1316.15 846.51 L1319.1 845.89 L1322.04 845.24 L1324.97 844.57 L1327.89 843.87 L1330.81 843.13 L1333.72 842.37 L1336.62 841.58 L1339.52 840.76 L1342.4 839.92 L1345.28 839.04 L1348.16 838.15 L1351.02 837.22 L1353.88 836.28 L1356.73 835.32 L1359.57 834.34 L1362.41 833.35 L1365.25 832.33 L1368.08 831.31 L1370.9 830.27 L1373.72 829.21 L1376.53 828.14 L1379.34 827.06 L1382.15 825.97 L1384.95 824.87 L1387.74 823.76 L1390.53 822.63 L1393.32 821.5 L1396.1 820.35 L1398.88 819.2 L1401.66 818.03 L1404.43 816.85 L1407.19 815.66 L1409.95 814.45 L1412.7 813.23 L1415.43 811.99 L1418.16 810.71 L1420.87 809.41 L1423.55 808.06 L1426.2 806.65 L1428.81 805.17 L1431.37 803.62 L1433.87 801.98 L1436.32 800.26 L1438.72 798.46 L1441.06 796.6 L1443.38 794.7 L1445.68 792.76 L1447.97 790.82 L1450.27 788.89 L1452.58 786.96 L1454.9 785.05 L1457.24 783.16 L1459.58 781.27 L1461.92 779.38 L1464.27 777.49 L1466.61 775.61 L1468.95 773.71 L1471.27 771.8 L1473.58 769.87 L1475.86 767.91 L1478.12 765.93 L1480.34 763.9 L1482.54 761.85 L1484.71 759.77 L1486.85 757.65 L1488.96 755.52 L1491.06 753.36 L1493.14 751.18 L1495.2 748.99 L1497.25 746.79 L1499.29 744.57 L1501.31 742.35 L1503.34 740.12 L1505.36 737.89 L1506.7 736.4 L1506.29 738.36 L1505.65 741.3 L1504.97 744.23 L1504.24 747.14 L1503.44 750.03 L1502.55 752.89 L1501.57 755.72 L1500.49 758.51 L1499.33 761.27 L1498.07 763.99 L1496.73 766.68 L1495.31 769.32 L1493.83 771.93 L1492.29 774.51 L1490.7 777.06 L1489.05 779.58 L1487.37 782.06 L1485.64 784.52 L1483.85 786.93 L1482.01 789.3 L1480.09 791.6 L1478.1 793.84 L1476.04 796 L1473.89 798.08 L1471.67 800.09 L1469.38 802.03 L1467.04 803.91 L1464.66 805.74 L1462.25 807.53 L1459.81 809.29 L1457.37 811.04 L1454.92 812.79 L1452.48 814.56 L1450.06 816.33 L1447.65 818.13 L1445.25 819.94 L1442.85 821.75 L1440.44 823.53 L1438 825.27 L1435.51 826.94 L1432.98 828.54 L1430.4 830.06 L1427.77 831.5 L1425.1 832.87 L1422.4 834.18 L1419.67 835.44 L1416.92 836.67 L1414.16 837.86 L1411.39 839.03 L1408.61 840.19 L1405.82 841.33 L1403.03 842.46 L1400.24 843.58 L1397.44 844.69 L1394.63 845.79 L1391.83 846.88 L1389.02 847.96 L1386.2 849.02 L1383.38 850.08 L1380.56 851.13 L1377.73 852.16 L1374.9 853.18 L1372.07 854.19 L1369.23 855.19 L1366.38 856.17 L1363.53 857.14 L1360.67 858.09 L1357.81 859.02 L1354.94 859.94 L1352.07 860.83 L1349.19 861.7 L1346.3 862.55 L1343.41 863.38 L1340.5 864.17 L1337.59 864.94 L1334.68 865.68 L1331.75 866.39 L1328.82 867.06 L1325.88 867.71 L1322.94 868.32 L1319.98 868.91 L1317.03 869.47 L1314.06 870 L1311.1 870.51 L1308.13 870.99 L1305.15 871.45 L1302.17 871.89 L1299.19 872.32 L1296.21 872.73 L1293.23 873.12 L1290.24 873.5 L1287.25 873.87 L1284.26 874.23 L1281.27 874.58 L1278.28 874.93 L1275.29 875.27 L1272.3 875.61 L1269.31 875.95 L1266.32 876.29 L1263.33 876.63 L1260.34 876.98 L1257.35 877.33 L1254.36 877.68 L1251.37 878.04 L1248.38 878.4 L1245.39 878.75 L1242.4 879.11 L1239.41 879.46 L1236.42 879.81 L1233.43 880.15 L1230.44 880.48 L1227.44 880.81 L1224.45 881.14 L1221.46 881.46 L1218.46 881.78 L1215.47 882.09 L1212.47 882.4 L1209.48 882.71 L1206.48 883.02 L1203.49 883.32 L1200.49 883.62 L1197.5 883.93 L1194.5 884.23 L1191.51 884.53 L1188.51 884.83 L1185.52 885.14 L1182.52 885.44 L1179.53 885.75 L1176.53 886.06 L1173.54 886.38 L1170.54 886.71 L1167.55 887.04 L1164.56 887.37 L1161.57 887.72 L1158.58 888.07 L1155.59 888.42 L1152.6 888.79 L1149.61 889.16 L1146.63 889.54 L1143.64 889.93 L1140.66 890.32 L1137.67 890.72 L1134.69 891.12 L1131.71 891.53 L1128.72 891.94 L1125.74 892.35 L1122.76 892.75 L1119.78 893.16 L1116.79 893.56 L1113.81 893.96 L1110.83 894.35 L1107.84 894.76 L1104.86 895.17 L1101.89 895.61 L1098.91 896.07 L1095.95 896.57 L1092.98 897.09 L1090.03 897.64 L1087.07 898.2 L1084.11 898.76 L1081.16 899.33 L1078.2 899.9" fill="none" stroke="#2a3580" stroke-width="2.5" stroke-linejoin="round"/>
<path d="M1078.2 917.1 L1079.03 914.27 L1079.94 911.46 L1080.97 908.71 L1082.16 906.03 L1083.54 903.44 L1085.1 900.95 L1086.82 898.55 L1088.69 896.25 L1090.67 894.03 L1092.76 891.9 L1094.92 889.84 L1097.17 887.87 L1099.48 885.96 L1101.85 884.13 L1104.27 882.38 L1106.76 880.71 L1109.29 879.11 L1111.88 877.6 L1114.51 876.17 L1117.18 874.82 L1119.9 873.55 L1122.65 872.35 L1125.43 871.22 L1128.24 870.14 L1131.06 869.11 L1133.9 868.12 L1136.76 867.18 L1139.63 866.27 L1142.51 865.41 L1145.4 864.57 L1148.3 863.78 L1151.21 863.01 L1154.13 862.28 L1157.05 861.57 L1159.98 860.9 L1162.92 860.25 L1165.86 859.62 L1168.81 859.01 L1171.76 858.43 L1174.72 857.86 L1177.68 857.31 L1180.64 856.78 L1183.6 856.25 L1186.57 855.74 L1189.54 855.24 L1192.51 854.74 L1195.48 854.25 L1198.45 853.76 L1201.42 853.28 L1204.39 852.79 L1207.36 852.31 L1210.33 851.83 L1213.3 851.35 L1216.27 850.87 L1219.24 850.38 L1222.22 849.9 L1225.19 849.41 L1228.15 848.91 L1231.12 848.41 L1234.09 847.91 L1237.06 847.39 L1240.02 846.88 L1242.99 846.36 L1245.95 845.83 L1248.91 845.3 L1251.88 844.78 L1254.84 844.26 L1257.81 843.74 L1260.77 843.23 L1263.74 842.73 L1266.71 842.23 L1269.68 841.74 L1272.65 841.25 L1275.62 840.77 L1278.59 840.28 L1281.56 839.79 L1284.53 839.29 L1287.5 838.79 L1290.46 838.28 L1293.43 837.75 L1296.39 837.21 L1299.34 836.65 L1302.3 836.07 L1305.25 835.47 L1308.19 834.85 L1311.13 834.2 L1314.06 833.52 L1316.99 832.82 L1319.9 832.08 L1322.81 831.31 L1325.71 830.5 L1328.59 829.66 L1331.47 828.78 L1334.33 827.86 L1337.19 826.91 L1340.03 825.91 L1342.85 824.89 L1345.67 823.83 L1348.47 822.74 L1351.27 821.62 L1354.05 820.48 L1356.82 819.31 L1359.59 818.12 L1362.34 816.91 L1365.09 815.68 L1367.83 814.44 L1370.57 813.18 L1373.29 811.9 L1376.01 810.62 L1378.73 809.32 L1381.44 808 L1384.14 806.68 L1386.84 805.35 L1389.53 804.01 L1392.22 802.66 L1394.91 801.3 L1397.59 799.93 L1400.27 798.56 L1402.94 797.18 L1405.62 795.79 L1408.28 794.4 L1410.95 793 L1413.61 791.6 L1416.27 790.19 L1418.92 788.76 L1421.56 787.32 L1424.19 785.85 L1426.8 784.36 L1429.38 782.82 L1431.92 781.23 L1434.43 779.58 L1436.9 777.87 L1439.33 776.11 L1441.71 774.28 L1444.06 772.41 L1446.37 770.49 L1448.65 768.53 L1450.9 766.54 L1453.12 764.51 L1455.3 762.45 L1457.44 760.34 L1459.55 758.19 L1461.61 756.01 L1463.64 753.79 L1465.64 751.54 L1467.61 749.27 L1469.56 746.98 L1471.5 744.68 L1473.42 742.37 L1475.34 740.05 L1477.26 737.73 L1479.19 735.41 L1481.11 733.1 L1483.03 730.78 L1484.96 728.47 L1486.88 726.15 L1488.79 723.82 L1490.69 721.49 L1492.57 719.15 L1494.45 716.79 L1496.31 714.43 L1498.16 712.05 L1500 709.67 L1501.83 707.28 L1503.66 704.89 L1505.48 702.5 L1506.7 700.9 L1506.62 701.9 L1506.39 704.9 L1506.13 707.9 L1505.85 710.89 L1505.53 713.88 L1505.16 716.86 L1504.74 719.84 L1504.28 722.81 L1503.75 725.77 L1503.18 728.72 L1502.56 731.66 L1501.89 734.59 L1501.17 737.5 L1500.39 740.41 L1499.55 743.29 L1498.67 746.16 L1497.72 749.02 L1496.73 751.85 L1495.68 754.67 L1494.59 757.47 L1493.44 760.25 L1492.24 763 L1490.98 765.73 L1489.66 768.43 L1488.28 771.09 L1486.84 773.72 L1485.33 776.32 L1483.77 778.88 L1482.14 781.4 L1480.45 783.88 L1478.7 786.32 L1476.88 788.7 L1474.99 791.02 L1473.01 793.26 L1470.96 795.43 L1468.82 797.52 L1466.6 799.52 L1464.32 801.46 L1461.98 803.33 L1459.59 805.16 L1457.19 806.96 L1454.77 808.75 L1452.36 810.54 L1449.96 812.35 L1447.57 814.18 L1445.19 816.01 L1442.82 817.85 L1440.43 819.68 L1438.02 821.47 L1435.58 823.22 L1433.11 824.92 L1430.59 826.56 L1428.04 828.14 L1425.46 829.68 L1422.85 831.18 L1420.23 832.65 L1417.59 834.09 L1414.94 835.52 L1412.29 836.94 L1409.63 838.35 L1406.97 839.75 L1404.3 841.15 L1401.63 842.54 L1398.96 843.93 L1396.29 845.31 L1393.61 846.68 L1390.92 848.04 L1388.24 849.4 L1385.55 850.74 L1382.85 852.08 L1380.15 853.41 L1377.44 854.72 L1374.73 856.03 L1372.01 857.31 L1369.28 858.59 L1366.55 859.85 L1363.81 861.1 L1361.06 862.32 L1358.31 863.53 L1355.54 864.71 L1352.77 865.88 L1349.98 867.02 L1347.19 868.13 L1344.38 869.21 L1341.56 870.26 L1338.73 871.27 L1335.88 872.25 L1333.03 873.19 L1330.16 874.09 L1327.28 874.96 L1324.39 875.79 L1321.49 876.59 L1318.58 877.35 L1315.66 878.08 L1312.73 878.78 L1309.8 879.45 L1306.86 880.09 L1303.92 880.71 L1300.97 881.3 L1298.01 881.87 L1295.05 882.42 L1292.09 882.96 L1289.13 883.48 L1286.16 883.98 L1283.19 884.47 L1280.22 884.96 L1277.25 885.44 L1274.28 885.91 L1271.31 886.38 L1268.33 886.85 L1265.36 887.32 L1262.39 887.79 L1259.42 888.27 L1256.45 888.75 L1253.48 889.23 L1250.51 889.72 L1247.53 890.2 L1244.56 890.69 L1241.59 891.17 L1238.62 891.64 L1235.65 892.11 L1232.67 892.57 L1229.7 893.02 L1226.72 893.47 L1223.74 893.91 L1220.77 894.34 L1217.79 894.77 L1214.81 895.19 L1211.83 895.61 L1208.85 896.03 L1205.86 896.44 L1202.88 896.84 L1199.9 897.25 L1196.92 897.65 L1193.94 898.06 L1190.95 898.46 L1187.97 898.86 L1184.99 899.26 L1182 899.66 L1179.02 900.06 L1176.04 900.46 L1173.06 900.86 L1170.07 901.27 L1167.09 901.68 L1164.11 902.1 L1161.13 902.51 L1158.15 902.93 L1155.17 903.34 L1152.19 903.76 L1149.21 904.18 L1146.23 904.59 L1143.24 905.01 L1140.26 905.42 L1137.28 905.84 L1134.3 906.25 L1131.32 906.67 L1128.34 907.09 L1125.36 907.52 L1122.39 907.97 L1119.42 908.44 L1116.45 908.93 L1113.49 909.45 L1110.53 910.01 L1107.58 910.6 L1104.64 911.21 L1101.7 911.84 L1098.76 912.49 L1095.82 913.15 L1092.88 913.8 L1089.95 914.46 L1087.01 915.12 L1084.07 915.78 L1081.14 916.44 L1078.2 917.1" fill="none" stroke="#9c66ad" stroke-width="2.5" stroke-linejoin="round"/>
<path d="M1078.2 939.2 L1078.47 936.21 L1078.78 933.22 L1079.15 930.25 L1079.61 927.3 L1080.18 924.37 L1080.88 921.47 L1081.72 918.62 L1082.71 915.82 L1083.84 913.08 L1085.13 910.4 L1086.55 907.78 L1088.09 905.23 L1089.73 902.73 L1091.45 900.28 L1093.22 897.86 L1095.04 895.47 L1096.88 893.09 L1098.74 890.73 L1100.63 888.39 L1102.55 886.07 L1104.5 883.8 L1106.51 881.59 L1108.58 879.46 L1110.74 877.42 L1113 875.51 L1115.35 873.71 L1117.79 872.03 L1120.3 870.44 L1122.87 868.92 L1125.48 867.44 L1128.1 865.99 L1130.74 864.55 L1133.39 863.12 L1136.05 861.71 L1138.72 860.33 L1141.41 858.98 L1144.11 857.67 L1146.84 856.41 L1149.59 855.2 L1152.37 854.04 L1155.16 852.94 L1157.98 851.89 L1160.81 850.9 L1163.67 849.96 L1166.54 849.06 L1169.43 848.21 L1172.32 847.41 L1175.23 846.63 L1178.15 845.89 L1181.07 845.17 L1184 844.48 L1186.93 843.8 L1189.87 843.14 L1192.81 843.94 L1195.75 842.95 L1198.69 841.22 L1201.64 840.6 L1204.58 839.98 L1207.53 839.36 L1210.48 838.74 L1213.42 838.13 L1216.37 837.51 L1219.31 836.89 L1222.26 836.27 L1225.2 835.64 L1228.15 835 L1231.09 834.36 L1234.03 833.71 L1236.96 833.04 L1239.9 832.37 L1242.83 831.69 L1245.76 831 L1248.69 830.31 L1251.62 829.61 L1254.54 828.91 L1257.47 828.21 L1260.4 827.52 L1263.33 826.84 L1266.27 826.16 L1269.2 825.48 L1272.14 824.81 L1275.07 824.14 L1278 823.46 L1280.94 822.78 L1283.87 822.1 L1286.8 821.4 L1289.72 820.7 L1292.65 819.98 L1295.57 819.25 L1298.48 818.49 L1301.39 817.72 L1304.29 816.93 L1307.19 816.11 L1310.07 815.26 L1312.95 814.39 L1315.82 813.48 L1318.68 812.55 L1321.53 811.58 L1324.37 810.57 L1327.19 809.53 L1330 808.45 L1332.79 807.33 L1335.57 806.18 L1338.33 804.99 L1341.08 803.77 L1343.81 802.51 L1346.53 801.22 L1349.23 799.9 L1351.92 798.55 L1354.6 797.18 L1357.27 795.78 L1359.93 794.37 L1362.57 792.94 L1365.21 791.49 L1367.84 790.02 L1370.46 788.54 L1373.07 787.04 L1375.68 785.54 L1378.28 784.02 L1380.87 782.49 L1383.45 780.94 L1386.03 779.39 L1388.61 777.83 L1391.17 776.26 L1393.74 774.68 L1396.3 773.09 L1398.85 771.5 L1401.4 769.9 L1403.94 768.29 L1406.48 766.68 L1409.02 765.06 L1411.55 763.43 L1414.08 761.8 L1416.6 760.15 L1419.11 758.49 L1421.61 756.82 L1424.09 755.11 L1426.55 753.38 L1428.97 751.6 L1431.36 749.78 L1433.7 747.9 L1435.99 745.96 L1438.23 743.96 L1440.42 741.91 L1442.57 739.81 L1444.68 737.67 L1446.76 735.5 L1448.81 733.31 L1450.84 731.09 L1452.85 728.85 L1454.83 726.58 L1456.78 724.29 L1458.7 721.98 L1460.6 719.65 L1462.48 717.3 L1464.34 714.94 L1466.2 712.57 L1468.05 710.19 L1469.89 707.81 L1471.71 705.42 L1473.52 703.01 L1475.32 700.59 L1477.09 698.16 L1478.84 695.72 L1480.57 693.25 L1482.28 690.78 L1483.98 688.29 L1485.66 685.79 L1487.32 683.28 L1488.97 680.77 L1490.61 678.25 L1492.25 675.72 L1493.87 673.18 L1495.49 670.65 L1497.11 668.1 L1498.71 665.56 L1500.32 663.01 L1501.91 660.46 L1503.51 657.91 L1505.11 655.35 L1506.7 652.8 L1506.65 653.8 L1506.5 656.81 L1506.34 659.81 L1506.16 662.81 L1505.95 665.81 L1505.7 668.81 L1505.41 671.8 L1505.07 674.79 L1504.67 677.76 L1504.22 680.73 L1503.7 683.69 L1503.13 686.64 L1502.5 689.58 L1501.81 692.5 L1501.07 695.42 L1500.27 698.31 L1499.43 701.2 L1498.54 704.07 L1497.6 706.92 L1496.63 709.77 L1495.63 712.61 L1494.61 715.44 L1493.57 718.26 L1492.52 721.08 L1491.45 723.89 L1490.37 726.7 L1489.28 729.51 L1488.19 732.31 L1487.08 735.11 L1485.96 737.9 L1484.83 740.69 L1483.68 743.47 L1482.52 746.25 L1481.34 749.01 L1480.13 751.77 L1478.89 754.51 L1477.61 757.23 L1476.31 759.94 L1474.97 762.63 L1473.6 765.31 L1472.21 767.98 L1470.79 770.63 L1469.35 773.27 L1467.9 775.91 L1466.42 778.53 L1464.93 781.13 L1463.4 783.72 L1461.83 786.28 L1460.2 788.8 L1458.52 791.28 L1456.77 793.71 L1454.95 796.1 L1453.09 798.45 L1451.18 800.77 L1449.23 803.06 L1447.25 805.32 L1445.23 807.54 L1443.17 809.73 L1441.07 811.88 L1438.92 813.98 L1436.73 816.03 L1434.5 818.04 L1432.23 820.01 L1429.91 821.93 L1427.57 823.81 L1425.2 825.65 L1422.8 827.47 L1420.39 829.26 L1417.96 831.04 L1415.52 832.81 L1413.08 834.56 L1410.63 836.31 L1408.17 838.05 L1405.71 839.78 L1403.25 841.51 L1400.78 843.23 L1398.31 844.94 L1395.83 846.65 L1393.34 848.35 L1390.85 850.04 L1388.36 851.72 L1385.85 853.39 L1383.34 855.05 L1380.83 856.7 L1378.3 858.33 L1375.77 859.95 L1373.22 861.56 L1370.67 863.16 L1368.11 864.74 L1365.54 866.3 L1362.96 867.84 L1360.36 869.36 L1357.76 870.87 L1355.13 872.34 L1352.5 873.79 L1349.85 875.22 L1347.18 876.61 L1344.5 877.97 L1341.8 879.29 L1339.08 880.56 L1336.34 881.8 L1333.58 882.99 L1330.8 884.14 L1328 885.24 L1325.19 886.29 L1322.36 887.3 L1319.51 888.27 L1316.65 889.19 L1313.77 890.07 L1310.89 890.91 L1307.99 891.71 L1305.08 892.48 L1302.17 893.22 L1299.24 893.93 L1296.31 894.61 L1293.38 895.27 L1290.44 895.91 L1287.49 896.53 L1284.54 897.13 L1281.59 897.72 L1278.64 898.3 L1275.69 898.88 L1272.73 899.45 L1269.78 900.03 L1266.82 900.6 L1263.87 901.18 L1260.92 902.76 L1257.97 903.92 L1255.02 902.97 L1252.08 903.58 L1249.13 904.2 L1246.19 904.81 L1243.24 905.43 L1240.29 906.04 L1237.35 906.65 L1234.4 907.25 L1231.45 907.84 L1228.49 908.42 L1225.54 909 L1222.59 909.57 L1219.63 910.13 L1216.67 910.69 L1213.71 911.24 L1210.76 911.79 L1207.8 912.34 L1204.84 912.88 L1201.88 913.42 L1198.91 913.96 L1195.95 914.5 L1192.99 915.03 L1190.03 915.57 L1187.07 916.11 L1184.11 916.65 L1181.15 917.19 L1178.19 917.74 L1175.23 918.29 L1172.27 918.84 L1169.32 919.41 L1166.36 919.98 L1163.41 920.56 L1160.46 921.15 L1157.51 921.74 L1154.56 922.35 L1151.62 922.96 L1148.67 923.58 L1145.73 924.21 L1142.79 924.84 L1139.85 925.48 L1136.91 926.12 L1133.96 926.76 L1131.02 927.39 L1128.08 928.01 L1125.13 928.62 L1122.19 929.22 L1119.23 929.8 L1116.28 930.37 L1113.33 930.94 L1110.38 931.51 L1107.43 932.11 L1104.49 932.73 L1101.55 933.37 L1098.62 934.05 L1095.7 934.74 L1092.77 935.46 L1089.85 936.19 L1086.94 936.93 L1084.02 937.69 L1081.11 938.44 L1078.2 939.2" fill="none" stroke="#4f7a38" stroke-width="2.5" stroke-linejoin="round"/>
</svg>
</body></html>
